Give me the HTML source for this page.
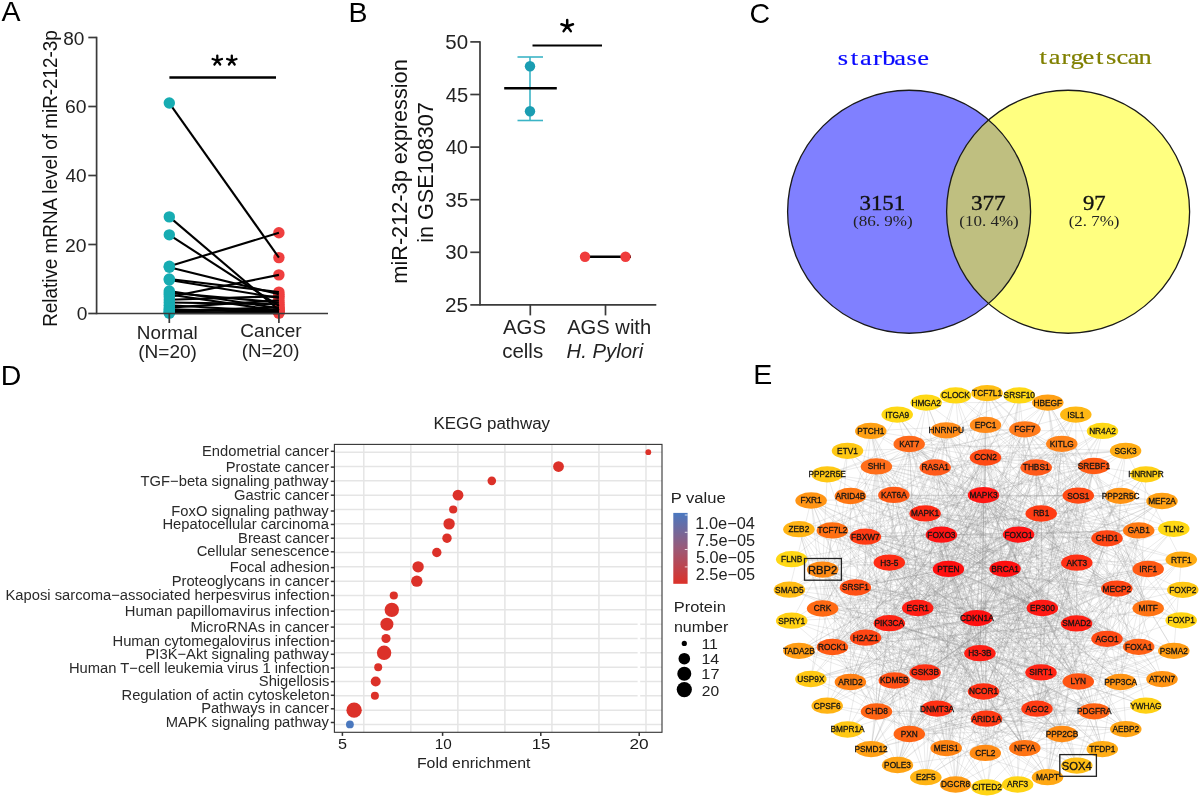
<!DOCTYPE html>
<html><head><meta charset="utf-8"><style>
html,body{margin:0;padding:0;background:#fff;}
svg{display:block;font-family:"Liberation Sans", sans-serif;filter:blur(0.4px);}
</style></head><body>
<svg width="1200" height="796" viewBox="0 0 1200 796">
<rect width="1200" height="796" fill="#fff"/>
<text x="1.50" y="20.66" font-size="28.5" fill="#000" >A</text>
<text x="348.52" y="21.96" font-size="28.5" fill="#000" >B</text>
<text x="749.58" y="22.70" font-size="28.5" fill="#000" >C</text>
<text x="0.72" y="384.67" font-size="28.5" fill="#000" >D</text>
<text x="753.22" y="383.97" font-size="28.5" fill="#000" >E</text>
<g fill="#ef3f3f">
<circle cx="278.9" cy="257.61" r="5.7"/>
<circle cx="278.9" cy="310.05" r="5.7"/>
<circle cx="278.9" cy="305.91" r="5.7"/>
<circle cx="278.9" cy="232.77" r="5.7"/>
<circle cx="278.9" cy="294.18" r="5.7"/>
<circle cx="278.9" cy="292.11" r="5.7"/>
<circle cx="278.9" cy="297.98" r="5.7"/>
<circle cx="278.9" cy="308.32" r="5.7"/>
<circle cx="278.9" cy="302.46" r="5.7"/>
<circle cx="278.9" cy="310.74" r="5.7"/>
<circle cx="278.9" cy="274.86" r="5.7"/>
<circle cx="278.9" cy="296.25" r="5.7"/>
<circle cx="278.9" cy="304.19" r="5.7"/>
<circle cx="278.9" cy="311.43" r="5.7"/>
<circle cx="278.9" cy="300.39" r="5.7"/>
<circle cx="278.9" cy="312.12" r="5.7"/>
<circle cx="278.9" cy="307.29" r="5.7"/>
<circle cx="278.9" cy="309.36" r="5.7"/>
<circle cx="278.9" cy="312.81" r="5.7"/>
<circle cx="278.9" cy="313.15" r="5.7"/>
</g>
<g stroke="#000" stroke-width="2.1">
<line x1="169.3" y1="103.05" x2="278.9" y2="257.61"/>
<line x1="169.3" y1="216.90" x2="278.9" y2="310.05"/>
<line x1="169.3" y1="234.84" x2="278.9" y2="305.91"/>
<line x1="169.3" y1="266.24" x2="278.9" y2="232.77"/>
<line x1="169.3" y1="267.27" x2="278.9" y2="294.18"/>
<line x1="169.3" y1="279.00" x2="278.9" y2="292.11"/>
<line x1="169.3" y1="280.04" x2="278.9" y2="297.98"/>
<line x1="169.3" y1="291.07" x2="278.9" y2="308.32"/>
<line x1="169.3" y1="292.80" x2="278.9" y2="302.46"/>
<line x1="169.3" y1="294.52" x2="278.9" y2="310.74"/>
<line x1="169.3" y1="296.94" x2="278.9" y2="274.86"/>
<line x1="169.3" y1="299.70" x2="278.9" y2="296.25"/>
<line x1="169.3" y1="302.46" x2="278.9" y2="304.19"/>
<line x1="169.3" y1="305.22" x2="278.9" y2="311.43"/>
<line x1="169.3" y1="307.63" x2="278.9" y2="300.39"/>
<line x1="169.3" y1="309.36" x2="278.9" y2="312.12"/>
<line x1="169.3" y1="310.74" x2="278.9" y2="307.29"/>
<line x1="169.3" y1="311.77" x2="278.9" y2="309.36"/>
<line x1="169.3" y1="312.46" x2="278.9" y2="312.81"/>
<line x1="169.3" y1="313.15" x2="278.9" y2="313.15"/>
</g>
<g fill="#17acb2">
<circle cx="169.3" cy="103.05" r="5.7"/>
<circle cx="169.3" cy="216.90" r="5.7"/>
<circle cx="169.3" cy="234.84" r="5.7"/>
<circle cx="169.3" cy="266.24" r="5.7"/>
<circle cx="169.3" cy="267.27" r="5.7"/>
<circle cx="169.3" cy="279.00" r="5.7"/>
<circle cx="169.3" cy="280.04" r="5.7"/>
<circle cx="169.3" cy="291.07" r="5.7"/>
<circle cx="169.3" cy="292.80" r="5.7"/>
<circle cx="169.3" cy="294.52" r="5.7"/>
<circle cx="169.3" cy="296.94" r="5.7"/>
<circle cx="169.3" cy="299.70" r="5.7"/>
<circle cx="169.3" cy="302.46" r="5.7"/>
<circle cx="169.3" cy="305.22" r="5.7"/>
<circle cx="169.3" cy="307.63" r="5.7"/>
<circle cx="169.3" cy="309.36" r="5.7"/>
<circle cx="169.3" cy="310.74" r="5.7"/>
<circle cx="169.3" cy="311.77" r="5.7"/>
<circle cx="169.3" cy="312.46" r="5.7"/>
<circle cx="169.3" cy="313.15" r="5.7"/>
</g>
<g stroke="#3a3a3a" stroke-width="1.7" fill="none">
<line x1="96.6" y1="36.80" x2="96.6" y2="314.2"/>
<line x1="96.6" y1="313.5" x2="328" y2="313.5"/>
<line x1="88.3" y1="313.50" x2="96.6" y2="313.50"/>
<line x1="88.3" y1="244.50" x2="96.6" y2="244.50"/>
<line x1="88.3" y1="175.50" x2="96.6" y2="175.50"/>
<line x1="88.3" y1="106.50" x2="96.6" y2="106.50"/>
<line x1="88.3" y1="37.50" x2="96.6" y2="37.50"/>
<line x1="169.3" y1="313.5" x2="169.3" y2="323.0"/>
<line x1="278.9" y1="313.5" x2="278.9" y2="323.0"/>
</g>
<text x="63.24" y="44.66" font-size="18.8" fill="#222" textLength="21.17" lengthAdjust="spacingAndGlyphs" >80</text>
<text x="65.13" y="113.36" font-size="18.8" fill="#222" textLength="21.49" lengthAdjust="spacingAndGlyphs" >60</text>
<text x="65.52" y="181.96" font-size="18.8" fill="#222" textLength="21.09" lengthAdjust="spacingAndGlyphs" >40</text>
<text x="65.13" y="252.36" font-size="18.8" fill="#222" textLength="21.49" lengthAdjust="spacingAndGlyphs" >20</text>
<text x="76.73" y="319.96" font-size="18.8" fill="#222" textLength="10.66" lengthAdjust="spacingAndGlyphs" >0</text>
<text transform="translate(56.50,325.30) rotate(-90)" x="-1.51" y="0" font-size="19.7" fill="#111" textLength="296.63" lengthAdjust="spacingAndGlyphs">Relative mRNA level of miR-212-3p</text>
<text x="136.79" y="338.50" font-size="19.1" fill="#222" textLength="60.89" lengthAdjust="spacingAndGlyphs" >Normal</text>
<text x="138.16" y="358.40" font-size="19.1" fill="#222" textLength="58.77" lengthAdjust="spacingAndGlyphs" >(N=20)</text>
<text x="240.35" y="337.00" font-size="19.1" fill="#222" textLength="61.31" lengthAdjust="spacingAndGlyphs" >Cancer</text>
<text x="241.68" y="356.60" font-size="19.1" fill="#222" textLength="57.73" lengthAdjust="spacingAndGlyphs" >(N=20)</text>
<line x1="169.4" y1="77.5" x2="276" y2="77.5" stroke="#000" stroke-width="2.5"/>
<path d="M217.30,60.50L217.30,55.60M217.30,60.50L212.64,58.99M217.30,60.50L214.42,64.46M217.30,60.50L220.18,64.46M217.30,60.50L221.96,58.99" stroke="#000" stroke-width="2.3" stroke-linecap="round" fill="none"/>
<path d="M231.80,60.50L231.80,55.60M231.80,60.50L227.14,58.99M231.80,60.50L228.92,64.46M231.80,60.50L234.68,64.46M231.80,60.50L236.46,58.99" stroke="#000" stroke-width="2.3" stroke-linecap="round" fill="none"/>
<g stroke="#3a3a3a" stroke-width="1.7" fill="none">
<line x1="480" y1="41.20" x2="480" y2="305.60"/>
<line x1="480" y1="304.90" x2="656.3" y2="304.90"/>
<line x1="470.3" y1="304.90" x2="480" y2="304.90"/>
<line x1="470.3" y1="252.30" x2="480" y2="252.30"/>
<line x1="470.3" y1="199.70" x2="480" y2="199.70"/>
<line x1="470.3" y1="147.10" x2="480" y2="147.10"/>
<line x1="470.3" y1="94.50" x2="480" y2="94.50"/>
<line x1="470.3" y1="41.90" x2="480" y2="41.90"/>
<line x1="530.3" y1="304.90" x2="530.3" y2="315.40"/>
<line x1="605.5" y1="304.90" x2="605.5" y2="315.40"/>
</g>
<text x="445.06" y="311.90" font-size="20.2" fill="#222" textLength="23.12" lengthAdjust="spacingAndGlyphs" >25</text>
<text x="445.28" y="259.30" font-size="20.2" fill="#222" textLength="22.78" lengthAdjust="spacingAndGlyphs" >30</text>
<text x="445.28" y="206.70" font-size="20.2" fill="#222" textLength="22.89" lengthAdjust="spacingAndGlyphs" >35</text>
<text x="445.70" y="154.10" font-size="20.2" fill="#222" textLength="22.35" lengthAdjust="spacingAndGlyphs" >40</text>
<text x="445.70" y="101.50" font-size="20.2" fill="#222" textLength="22.46" lengthAdjust="spacingAndGlyphs" >45</text>
<text x="445.28" y="48.90" font-size="20.2" fill="#222" textLength="22.78" lengthAdjust="spacingAndGlyphs" >50</text>
<text transform="translate(406.60,282.30) rotate(-90)" x="-1.41" y="0" font-size="21.8" fill="#111" textLength="224.49" lengthAdjust="spacingAndGlyphs">miR-212-3p expression</text>
<text transform="translate(433.00,241.40) rotate(-90)" x="-1.40" y="0" font-size="21.8" fill="#111" textLength="140.59" lengthAdjust="spacingAndGlyphs">in GSE108307</text>
<text x="503.00" y="334.10" font-size="19.8" fill="#222" textLength="42.95" lengthAdjust="spacingAndGlyphs" >AGS</text>
<text x="502.18" y="358.40" font-size="19.8" fill="#222" textLength="40.95" lengthAdjust="spacingAndGlyphs" >cells</text>
<text x="567.20" y="334.10" font-size="19.8" fill="#222" textLength="83.97" lengthAdjust="spacingAndGlyphs" >AGS with</text>
<text x="566.59" y="358.20" font-size="19.8" font-style="italic" fill="#222" textLength="76.67" lengthAdjust="spacingAndGlyphs" >H. Pylori</text>
<line x1="532.5" y1="45.5" x2="602" y2="45.5" stroke="#000" stroke-width="2"/>
<path d="M567.20,26.20L567.20,20.10M567.20,26.20L561.40,24.31M567.20,26.20L563.61,31.14M567.20,26.20L570.79,31.14M567.20,26.20L573.00,24.31" stroke="#000" stroke-width="2.5" stroke-linecap="round" fill="none"/>
<g stroke="#3bb4c6" stroke-width="1.6"><line x1="530" y1="57" x2="530" y2="120.5"/><line x1="517.5" y1="57" x2="543" y2="57"/><line x1="517.5" y1="120.5" x2="543" y2="120.5"/></g>
<line x1="504.2" y1="88.2" x2="556.8" y2="88.2" stroke="#000" stroke-width="2.4"/>
<circle cx="530" cy="66.2" r="5.2" fill="#1a9db2"/><circle cx="530" cy="111.2" r="5.2" fill="#1a9db2"/>
<line x1="580" y1="256.8" x2="631" y2="256.8" stroke="#000" stroke-width="2.4"/>
<circle cx="585" cy="256.8" r="5.2" fill="#f03c3c"/><circle cx="625.5" cy="256.8" r="5.2" fill="#f03c3c"/>
<circle cx="909.1" cy="211.75" r="121.5" fill="#8080ff"/>
<circle cx="1068.1" cy="211.75" r="121.5" fill="#ffff80"/>
<clipPath id="cl"><circle cx="909.1" cy="211.75" r="121.5"/></clipPath>
<circle cx="1068.1" cy="211.75" r="121.5" fill="#bfbf80" clip-path="url(#cl)"/>
<circle cx="909.1" cy="211.75" r="121.5" fill="none" stroke="#1a1a1a" stroke-width="1.3"/>
<circle cx="1068.1" cy="211.75" r="121.5" fill="none" stroke="#1a1a1a" stroke-width="1.3"/>
<g transform="scale(1.2,1)"><text x="702.42 711.97 721.52 731.07 740.62 750.17 759.72 769.27" y="64.6" font-family='"Liberation Serif", serif' font-size="22" text-anchor="middle" fill="#0a0aff" stroke="#0a0aff" stroke-width="0.2">starbase</text></g>
<g transform="scale(1.2,1)"><text x="869.33 878.76 888.18 897.61 907.03 916.46 925.88 935.31 944.73 954.16" y="64.4" font-family='"Liberation Serif", serif' font-size="22" text-anchor="middle" fill="#808000" stroke="#808000" stroke-width="0.2">targetscan</text></g>
<text x="859.47" y="210.00" font-size="20" font-family='"Liberation Serif", serif' fill="#111" textLength="45.65" lengthAdjust="spacingAndGlyphs" stroke="#111" stroke-width="0.35">3151</text>
<text x="852.98" y="225.50" font-size="15.5" font-family='"Liberation Serif", serif' fill="#222" textLength="59.77" lengthAdjust="spacingAndGlyphs" >(86. 9%)</text>
<text x="970.96" y="210.00" font-size="20" font-family='"Liberation Serif", serif' fill="#111" textLength="34.74" lengthAdjust="spacingAndGlyphs" stroke="#111" stroke-width="0.35">377</text>
<text x="959.23" y="225.50" font-size="15.5" font-family='"Liberation Serif", serif' fill="#222" textLength="59.52" lengthAdjust="spacingAndGlyphs" >(10. 4%)</text>
<text x="1083.07" y="210.00" font-size="20" font-family='"Liberation Serif", serif' fill="#111" textLength="22.61" lengthAdjust="spacingAndGlyphs" stroke="#111" stroke-width="0.35">97</text>
<text x="1068.74" y="225.50" font-size="15.5" font-family='"Liberation Serif", serif' fill="#222" textLength="50.76" lengthAdjust="spacingAndGlyphs" >(2. 7%)</text>
<g stroke="#e5e5e5" stroke-width="1.5">
<line x1="334.4" y1="452.20" x2="662.0" y2="452.20"/>
<line x1="334.4" y1="466.53" x2="662.0" y2="466.53"/>
<line x1="334.4" y1="480.86" x2="662.0" y2="480.86"/>
<line x1="334.4" y1="495.19" x2="662.0" y2="495.19"/>
<line x1="334.4" y1="509.52" x2="662.0" y2="509.52"/>
<line x1="334.4" y1="523.85" x2="662.0" y2="523.85"/>
<line x1="334.4" y1="538.18" x2="662.0" y2="538.18"/>
<line x1="334.4" y1="552.51" x2="662.0" y2="552.51"/>
<line x1="334.4" y1="566.84" x2="662.0" y2="566.84"/>
<line x1="334.4" y1="581.17" x2="662.0" y2="581.17"/>
<line x1="334.4" y1="595.50" x2="662.0" y2="595.50"/>
<line x1="334.4" y1="609.83" x2="662.0" y2="609.83"/>
<line x1="334.4" y1="624.16" x2="662.0" y2="624.16"/>
<line x1="334.4" y1="638.49" x2="662.0" y2="638.49"/>
<line x1="334.4" y1="652.82" x2="662.0" y2="652.82"/>
<line x1="334.4" y1="667.15" x2="662.0" y2="667.15"/>
<line x1="334.4" y1="681.48" x2="662.0" y2="681.48"/>
<line x1="334.4" y1="695.81" x2="662.0" y2="695.81"/>
<line x1="334.4" y1="710.14" x2="662.0" y2="710.14"/>
<line x1="334.4" y1="724.47" x2="662.0" y2="724.47"/>
<line x1="363.80" y1="444.4" x2="363.80" y2="732.3"/>
<line x1="410.83" y1="444.4" x2="410.83" y2="732.3"/>
<line x1="457.86" y1="444.4" x2="457.86" y2="732.3"/>
<line x1="504.89" y1="444.4" x2="504.89" y2="732.3"/>
<line x1="551.92" y1="444.4" x2="551.92" y2="732.3"/>
<line x1="598.95" y1="444.4" x2="598.95" y2="732.3"/>
<line x1="645.98" y1="444.4" x2="645.98" y2="732.3"/>
</g>
<rect x="637.6" y="619" width="2.6" height="80" fill="#fff"/>
<circle cx="648.3" cy="452.20" r="2.9" fill="#dc3129"/>
<circle cx="558.5" cy="466.53" r="5.4" fill="#dc3129"/>
<circle cx="491.8" cy="480.86" r="4.3" fill="#dc3129"/>
<circle cx="458.0" cy="495.19" r="5.4" fill="#dc3129"/>
<circle cx="453.2" cy="509.52" r="4.1" fill="#dc3129"/>
<circle cx="449.1" cy="523.85" r="5.7" fill="#dc3129"/>
<circle cx="447.0" cy="538.18" r="4.7" fill="#dc3129"/>
<circle cx="436.8" cy="552.51" r="4.7" fill="#dc3129"/>
<circle cx="418.1" cy="566.84" r="5.7" fill="#dc3129"/>
<circle cx="416.8" cy="581.17" r="5.7" fill="#dc3129"/>
<circle cx="393.8" cy="595.50" r="4.1" fill="#dc3129"/>
<circle cx="391.8" cy="609.83" r="7.2" fill="#dc3129"/>
<circle cx="386.9" cy="624.16" r="6.5" fill="#dc3129"/>
<circle cx="386.0" cy="638.49" r="4.6" fill="#dc3129"/>
<circle cx="384.1" cy="652.82" r="7.2" fill="#dc3129"/>
<circle cx="378.2" cy="667.15" r="4.0" fill="#dc3129"/>
<circle cx="375.7" cy="681.48" r="5.0" fill="#dc3129"/>
<circle cx="374.9" cy="695.81" r="4.0" fill="#dc3129"/>
<circle cx="354.1" cy="710.14" r="7.7" fill="#dc3129"/>
<circle cx="349.9" cy="724.47" r="3.9" fill="#4a78be"/>
<rect x="334.4" y="444.4" width="327.6" height="287.9" fill="none" stroke="#333" stroke-width="1.1"/>
<g stroke="#333" stroke-width="1.1">
<line x1="330.79999999999995" y1="451.30" x2="334.4" y2="451.30" stroke-width="1.5"/>
<line x1="330.79999999999995" y1="467.10" x2="334.4" y2="467.10" stroke-width="1.5"/>
<line x1="330.79999999999995" y1="481.30" x2="334.4" y2="481.30" stroke-width="1.5"/>
<line x1="330.79999999999995" y1="495.20" x2="334.4" y2="495.20" stroke-width="1.5"/>
<line x1="330.79999999999995" y1="511.00" x2="334.4" y2="511.00" stroke-width="1.5"/>
<line x1="330.79999999999995" y1="524.45" x2="334.4" y2="524.45" stroke-width="1.5"/>
<line x1="330.79999999999995" y1="538.20" x2="334.4" y2="538.20" stroke-width="1.5"/>
<line x1="330.79999999999995" y1="551.80" x2="334.4" y2="551.80" stroke-width="1.5"/>
<line x1="330.79999999999995" y1="567.60" x2="334.4" y2="567.60" stroke-width="1.5"/>
<line x1="330.79999999999995" y1="581.40" x2="334.4" y2="581.40" stroke-width="1.5"/>
<line x1="330.79999999999995" y1="595.50" x2="334.4" y2="595.50" stroke-width="1.5"/>
<line x1="330.79999999999995" y1="611.20" x2="334.4" y2="611.20" stroke-width="1.5"/>
<line x1="330.79999999999995" y1="627.10" x2="334.4" y2="627.10" stroke-width="1.5"/>
<line x1="330.79999999999995" y1="641.10" x2="334.4" y2="641.10" stroke-width="1.5"/>
<line x1="330.79999999999995" y1="654.30" x2="334.4" y2="654.30" stroke-width="1.5"/>
<line x1="330.79999999999995" y1="668.10" x2="334.4" y2="668.10" stroke-width="1.5"/>
<line x1="330.79999999999995" y1="681.70" x2="334.4" y2="681.70" stroke-width="1.5"/>
<line x1="330.79999999999995" y1="695.30" x2="334.4" y2="695.30" stroke-width="1.5"/>
<line x1="330.79999999999995" y1="708.80" x2="334.4" y2="708.80" stroke-width="1.5"/>
<line x1="330.79999999999995" y1="722.50" x2="334.4" y2="722.50" stroke-width="1.5"/>
<line x1="342.40" y1="732.3" x2="342.40" y2="735.9" stroke-width="1.5"/>
<line x1="442.60" y1="732.3" x2="442.60" y2="735.9" stroke-width="1.5"/>
<line x1="540.80" y1="732.3" x2="540.80" y2="735.9" stroke-width="1.5"/>
<line x1="639.20" y1="732.3" x2="639.20" y2="735.9" stroke-width="1.5"/>
</g>
<text x="201.95" y="455.80" font-size="14.75" fill="#2a2a2a" >Endometrial cancer</text>
<text x="225.77" y="471.60" font-size="14.75" fill="#2a2a2a" >Prostate cancer</text>
<text x="140.59" y="485.80" font-size="14.75" fill="#2a2a2a" >TGF−beta signaling pathway</text>
<text x="233.96" y="499.70" font-size="14.75" fill="#2a2a2a" >Gastric cancer</text>
<text x="171.34" y="515.50" font-size="14.75" fill="#2a2a2a" >FoxO signaling pathway</text>
<text x="162.42" y="528.95" font-size="14.75" fill="#2a2a2a" >Hepatocellular carcinoma</text>
<text x="238.09" y="542.70" font-size="14.75" fill="#2a2a2a" >Breast cancer</text>
<text x="196.64" y="556.30" font-size="14.75" fill="#2a2a2a" >Cellular senescence</text>
<text x="229.75" y="572.10" font-size="14.75" fill="#2a2a2a" >Focal adhesion</text>
<text x="171.64" y="585.90" font-size="14.75" fill="#2a2a2a" >Proteoglycans in cancer</text>
<text x="5.48" y="600.00" font-size="14.75" fill="#2a2a2a" >Kaposi sarcoma−associated herpesvirus infection</text>
<text x="124.81" y="615.70" font-size="14.75" fill="#2a2a2a" >Human papillomavirus infection</text>
<text x="190.52" y="631.60" font-size="14.75" fill="#2a2a2a" >MicroRNAs in cancer</text>
<text x="112.49" y="645.60" font-size="14.75" fill="#2a2a2a" >Human cytomegalovirus infection</text>
<text x="145.53" y="658.80" font-size="14.75" fill="#2a2a2a" >PI3K−Akt signaling pathway</text>
<text x="68.91" y="672.60" font-size="14.75" fill="#2a2a2a" >Human T−cell leukemia virus 1 infection</text>
<text x="258.81" y="686.20" font-size="14.75" fill="#2a2a2a" >Shigellosis</text>
<text x="121.49" y="699.80" font-size="14.75" fill="#2a2a2a" >Regulation of actin cytoskeleton</text>
<text x="201.14" y="713.30" font-size="14.75" fill="#2a2a2a" >Pathways in cancer</text>
<text x="165.67" y="727.00" font-size="14.75" fill="#2a2a2a" >MAPK signaling pathway</text>
<text x="337.95" y="748.90" font-size="15.3" fill="#1a1a1a" textLength="9.02" lengthAdjust="spacingAndGlyphs" >5</text>
<text x="434.85" y="748.90" font-size="15.3" fill="#1a1a1a" textLength="17.02" lengthAdjust="spacingAndGlyphs" >10</text>
<text x="531.74" y="748.90" font-size="15.3" fill="#1a1a1a" textLength="18.67" lengthAdjust="spacingAndGlyphs" >15</text>
<text x="629.44" y="748.90" font-size="15.3" fill="#1a1a1a" textLength="19.21" lengthAdjust="spacingAndGlyphs" >20</text>
<text x="416.93" y="768.40" font-size="15.2" fill="#222" textLength="113.53" lengthAdjust="spacingAndGlyphs" >Fold enrichment</text>
<text x="433.45" y="429.40" font-size="15.8" fill="#222" textLength="116.59" lengthAdjust="spacingAndGlyphs" >KEGG pathway</text>
<text x="670.67" y="502.60" font-size="15.5" fill="#222" textLength="55.01" lengthAdjust="spacingAndGlyphs" >P value</text>
<defs><linearGradient id="pg" x1="0" y1="0" x2="0" y2="1"><stop offset="0" stop-color="#4a78c0"/><stop offset="0.5" stop-color="#9a5a78"/><stop offset="1" stop-color="#dc3129"/></linearGradient></defs>
<rect x="673.3" y="512.9" width="14.3" height="70.9" fill="url(#pg)"/>
<g stroke="#fff" stroke-width="0.8">
<line x1="684.8" y1="515" x2="687.6" y2="515"/>
<line x1="684.8" y1="532.3" x2="687.6" y2="532.3"/>
<line x1="684.8" y1="549.5" x2="687.6" y2="549.5"/>
<line x1="684.8" y1="566.9" x2="687.6" y2="566.9"/>
</g>
<text x="695.37" y="529.10" font-size="16" fill="#222" textLength="59.56" lengthAdjust="spacingAndGlyphs" >1.0e−04</text>
<text x="695.79" y="546.00" font-size="16" fill="#222" textLength="59.31" lengthAdjust="spacingAndGlyphs" >7.5e−05</text>
<text x="695.95" y="563.30" font-size="16" fill="#222" textLength="59.14" lengthAdjust="spacingAndGlyphs" >5.0e−05</text>
<text x="695.79" y="580.20" font-size="16" fill="#222" textLength="59.31" lengthAdjust="spacingAndGlyphs" >2.5e−05</text>
<text x="673.68" y="612.40" font-size="15.5" fill="#222" textLength="52.15" lengthAdjust="spacingAndGlyphs" >Protein</text>
<text x="673.96" y="631.90" font-size="15.5" fill="#222" textLength="54.29" lengthAdjust="spacingAndGlyphs" >number</text>
<circle cx="684.3" cy="643.4" r="2.6" fill="#000"/>
<text x="701.40" y="649.00" font-size="15.3" fill="#222" textLength="16.56" lengthAdjust="spacingAndGlyphs" >11</text>
<circle cx="684.3" cy="658.7" r="5.8" fill="#000"/>
<text x="701.41" y="664.00" font-size="15.3" fill="#222" textLength="17.71" lengthAdjust="spacingAndGlyphs" >14</text>
<circle cx="684.3" cy="673.8" r="7.0" fill="#000"/>
<text x="701.38" y="679.40" font-size="15.3" fill="#222" textLength="18.07" lengthAdjust="spacingAndGlyphs" >17</text>
<circle cx="684.3" cy="689.6" r="7.6" fill="#000"/>
<text x="701.82" y="695.80" font-size="15.3" fill="#222" textLength="17.36" lengthAdjust="spacingAndGlyphs" >20</text>
<g stroke="#888" stroke-width="0.4" stroke-opacity="0.42">
<line x1="926.2" y1="402.6" x2="1047.8" y2="402.6"/>
<line x1="926.2" y1="402.6" x2="893.9" y2="494.9"/>
<line x1="926.2" y1="402.6" x2="1107" y2="538.3"/>
<line x1="926.2" y1="402.6" x2="948.4" y2="568.9"/>
<line x1="926.2" y1="402.6" x2="1041" y2="672.4"/>
<line x1="926.2" y1="402.6" x2="876.5" y2="711.5"/>
<line x1="926.2" y1="402.6" x2="1076.8" y2="765.6"/>
<line x1="955.6" y1="395.4" x2="946.2" y2="430.3"/>
<line x1="955.6" y1="395.4" x2="1036.2" y2="467.5"/>
<line x1="955.6" y1="395.4" x2="1138.7" y2="530.4"/>
<line x1="955.6" y1="395.4" x2="850.4" y2="682"/>
<line x1="955.6" y1="395.4" x2="1037" y2="708.7"/>
<line x1="955.6" y1="395.4" x2="985.3" y2="752.9"/>
<line x1="955.6" y1="395.4" x2="1102.3" y2="749.1"/>
<line x1="987.1" y1="393.1" x2="1024.9" y2="429.3"/>
<line x1="987.1" y1="393.1" x2="1036.2" y2="467.5"/>
<line x1="987.1" y1="393.1" x2="865.4" y2="536.7"/>
<line x1="987.1" y1="393.1" x2="941.4" y2="534.7"/>
<line x1="987.1" y1="393.1" x2="1018.6" y2="534.6"/>
<line x1="987.1" y1="393.1" x2="1138.7" y2="530.4"/>
<line x1="987.1" y1="393.1" x2="976.9" y2="618.1"/>
<line x1="987.1" y1="393.1" x2="889.3" y2="623.2"/>
<line x1="987.1" y1="393.1" x2="979.9" y2="653.2"/>
<line x1="987.1" y1="393.1" x2="1138.7" y2="646.8"/>
<line x1="1019.3" y1="395.4" x2="876.4" y2="466.4"/>
<line x1="1019.3" y1="395.4" x2="941.4" y2="534.7"/>
<line x1="1019.3" y1="395.4" x2="1042.4" y2="608"/>
<line x1="1019.3" y1="395.4" x2="889.3" y2="623.2"/>
<line x1="1019.3" y1="395.4" x2="983.5" y2="691.5"/>
<line x1="1019.3" y1="395.4" x2="946.2" y2="748.1"/>
<line x1="1019.3" y1="395.4" x2="955.6" y2="784.5"/>
<line x1="1019.3" y1="395.4" x2="1017.6" y2="784.5"/>
<line x1="1047.8" y1="402.6" x2="985.5" y2="457.5"/>
<line x1="1047.8" y1="402.6" x2="827.2" y2="474.3"/>
<line x1="1047.8" y1="402.6" x2="865.4" y2="536.7"/>
<line x1="1047.8" y1="402.6" x2="1076.8" y2="562.7"/>
<line x1="1047.8" y1="402.6" x2="1148.2" y2="569"/>
<line x1="1047.8" y1="402.6" x2="917.7" y2="608"/>
<line x1="1047.8" y1="402.6" x2="1148.2" y2="608.3"/>
<line x1="1047.8" y1="402.6" x2="1181.2" y2="620.3"/>
<line x1="1047.8" y1="402.6" x2="1078.3" y2="681.5"/>
<line x1="1047.8" y1="402.6" x2="1094.2" y2="711.3"/>
<line x1="1047.8" y1="402.6" x2="909.3" y2="734"/>
<line x1="1047.8" y1="402.6" x2="897.5" y2="765"/>
<line x1="897.2" y1="414.6" x2="935.2" y2="467.5"/>
<line x1="897.2" y1="414.6" x2="850.4" y2="496"/>
<line x1="897.2" y1="414.6" x2="925.1" y2="513.4"/>
<line x1="897.2" y1="414.6" x2="1076.8" y2="562.7"/>
<line x1="897.2" y1="414.6" x2="1078.3" y2="681.5"/>
<line x1="897.2" y1="414.6" x2="1094.2" y2="711.3"/>
<line x1="1075.8" y1="414.6" x2="876.4" y2="466.4"/>
<line x1="1075.8" y1="414.6" x2="983.5" y2="495.1"/>
<line x1="1075.8" y1="414.6" x2="822.6" y2="569.6"/>
<line x1="1075.8" y1="414.6" x2="948.4" y2="568.9"/>
<line x1="1075.8" y1="414.6" x2="1148.2" y2="608.3"/>
<line x1="1075.8" y1="414.6" x2="1076.6" y2="623.4"/>
<line x1="1075.8" y1="414.6" x2="865.6" y2="637.7"/>
<line x1="1075.8" y1="414.6" x2="937" y2="708.6"/>
<line x1="1075.8" y1="414.6" x2="955.6" y2="784.5"/>
<line x1="870.8" y1="430.9" x2="985.5" y2="424.9"/>
<line x1="870.8" y1="430.9" x2="876.4" y2="466.4"/>
<line x1="870.8" y1="430.9" x2="1145.9" y2="474.3"/>
<line x1="870.8" y1="430.9" x2="1041.2" y2="513.5"/>
<line x1="870.8" y1="430.9" x2="855.4" y2="587.5"/>
<line x1="870.8" y1="430.9" x2="1116.8" y2="588.6"/>
<line x1="870.8" y1="430.9" x2="976.9" y2="618.1"/>
<line x1="870.8" y1="430.9" x2="979.9" y2="653.2"/>
<line x1="870.8" y1="430.9" x2="810.9" y2="679"/>
<line x1="870.8" y1="430.9" x2="925.1" y2="672.4"/>
<line x1="870.8" y1="430.9" x2="937" y2="708.6"/>
<line x1="870.8" y1="430.9" x2="985.3" y2="752.9"/>
<line x1="946.2" y1="430.3" x2="1024.9" y2="429.3"/>
<line x1="946.2" y1="430.3" x2="1102.5" y2="430.9"/>
<line x1="946.2" y1="430.3" x2="985.5" y2="457.5"/>
<line x1="946.2" y1="430.3" x2="983.5" y2="495.1"/>
<line x1="946.2" y1="430.3" x2="1018.6" y2="534.6"/>
<line x1="946.2" y1="430.3" x2="791.7" y2="559.2"/>
<line x1="946.2" y1="430.3" x2="948.4" y2="568.9"/>
<line x1="946.2" y1="430.3" x2="1005.1" y2="568.8"/>
<line x1="946.2" y1="430.3" x2="1076.8" y2="562.7"/>
<line x1="946.2" y1="430.3" x2="917.7" y2="608"/>
<line x1="946.2" y1="430.3" x2="1042.4" y2="608"/>
<line x1="946.2" y1="430.3" x2="889.3" y2="623.2"/>
<line x1="946.2" y1="430.3" x2="865.6" y2="637.7"/>
<line x1="946.2" y1="430.3" x2="832.4" y2="647"/>
<line x1="946.2" y1="430.3" x2="979.9" y2="653.2"/>
<line x1="946.2" y1="430.3" x2="909.3" y2="734"/>
<line x1="985.5" y1="424.9" x2="909.2" y2="444"/>
<line x1="985.5" y1="424.9" x2="876.4" y2="466.4"/>
<line x1="985.5" y1="424.9" x2="1041.2" y2="513.5"/>
<line x1="985.5" y1="424.9" x2="941.4" y2="534.7"/>
<line x1="985.5" y1="424.9" x2="1018.6" y2="534.6"/>
<line x1="985.5" y1="424.9" x2="1107" y2="538.3"/>
<line x1="985.5" y1="424.9" x2="948.4" y2="568.9"/>
<line x1="985.5" y1="424.9" x2="889.3" y2="623.2"/>
<line x1="985.5" y1="424.9" x2="832.4" y2="647"/>
<line x1="985.5" y1="424.9" x2="979.9" y2="653.2"/>
<line x1="985.5" y1="424.9" x2="1041" y2="672.4"/>
<line x1="985.5" y1="424.9" x2="985.3" y2="752.9"/>
<line x1="985.5" y1="424.9" x2="1024.8" y2="748.1"/>
<line x1="985.5" y1="424.9" x2="925.8" y2="777.2"/>
<line x1="985.5" y1="424.9" x2="955.6" y2="784.5"/>
<line x1="1024.9" y1="429.3" x2="935.2" y2="467.5"/>
<line x1="1024.9" y1="429.3" x2="827.2" y2="474.3"/>
<line x1="1024.9" y1="429.3" x2="1120.6" y2="495.8"/>
<line x1="1024.9" y1="429.3" x2="1162" y2="501"/>
<line x1="1024.9" y1="429.3" x2="941.4" y2="534.7"/>
<line x1="1024.9" y1="429.3" x2="1018.6" y2="534.6"/>
<line x1="1024.9" y1="429.3" x2="1173.8" y2="528.8"/>
<line x1="1024.9" y1="429.3" x2="1148.2" y2="569"/>
<line x1="1024.9" y1="429.3" x2="789.4" y2="589.7"/>
<line x1="1024.9" y1="429.3" x2="1116.8" y2="588.6"/>
<line x1="1024.9" y1="429.3" x2="822.6" y2="608.5"/>
<line x1="1024.9" y1="429.3" x2="1076.6" y2="623.4"/>
<line x1="1024.9" y1="429.3" x2="1181.2" y2="620.3"/>
<line x1="1024.9" y1="429.3" x2="894.3" y2="680.5"/>
<line x1="1024.9" y1="429.3" x2="925.1" y2="672.4"/>
<line x1="1024.9" y1="429.3" x2="1078.3" y2="681.5"/>
<line x1="1024.9" y1="429.3" x2="871.1" y2="749.1"/>
<line x1="1024.9" y1="429.3" x2="985.3" y2="752.9"/>
<line x1="1024.9" y1="429.3" x2="1102.3" y2="749.1"/>
<line x1="1102.5" y1="430.9" x2="1036.2" y2="467.5"/>
<line x1="1102.5" y1="430.9" x2="1041.2" y2="513.5"/>
<line x1="1102.5" y1="430.9" x2="941.4" y2="534.7"/>
<line x1="1102.5" y1="430.9" x2="976.9" y2="618.1"/>
<line x1="1102.5" y1="430.9" x2="832.4" y2="647"/>
<line x1="1102.5" y1="430.9" x2="983.5" y2="691.5"/>
<line x1="1102.5" y1="430.9" x2="1037" y2="708.7"/>
<line x1="909.2" y1="444" x2="985.5" y2="457.5"/>
<line x1="909.2" y1="444" x2="1125.6" y2="450.8"/>
<line x1="909.2" y1="444" x2="827.2" y2="474.3"/>
<line x1="909.2" y1="444" x2="850.4" y2="496"/>
<line x1="909.2" y1="444" x2="1078.3" y2="495.6"/>
<line x1="909.2" y1="444" x2="865.4" y2="536.7"/>
<line x1="909.2" y1="444" x2="1018.6" y2="534.6"/>
<line x1="909.2" y1="444" x2="889.3" y2="562.6"/>
<line x1="909.2" y1="444" x2="1005.1" y2="568.8"/>
<line x1="909.2" y1="444" x2="1076.8" y2="562.7"/>
<line x1="909.2" y1="444" x2="1148.2" y2="569"/>
<line x1="909.2" y1="444" x2="917.7" y2="608"/>
<line x1="909.2" y1="444" x2="1148.2" y2="608.3"/>
<line x1="909.2" y1="444" x2="1181.2" y2="620.3"/>
<line x1="909.2" y1="444" x2="1107" y2="638.8"/>
<line x1="909.2" y1="444" x2="832.4" y2="647"/>
<line x1="909.2" y1="444" x2="979.9" y2="653.2"/>
<line x1="909.2" y1="444" x2="1041" y2="672.4"/>
<line x1="909.2" y1="444" x2="983.5" y2="691.5"/>
<line x1="909.2" y1="444" x2="1094.2" y2="711.3"/>
<line x1="909.2" y1="444" x2="1024.8" y2="748.1"/>
<line x1="909.2" y1="444" x2="897.5" y2="765"/>
<line x1="909.2" y1="444" x2="925.8" y2="777.2"/>
<line x1="1061.8" y1="443.8" x2="847.5" y2="450.8"/>
<line x1="1061.8" y1="443.8" x2="985.5" y2="457.5"/>
<line x1="1061.8" y1="443.8" x2="983.5" y2="495.1"/>
<line x1="1061.8" y1="443.8" x2="1078.3" y2="495.6"/>
<line x1="1061.8" y1="443.8" x2="925.1" y2="513.4"/>
<line x1="1061.8" y1="443.8" x2="1041.2" y2="513.5"/>
<line x1="1061.8" y1="443.8" x2="889.3" y2="562.6"/>
<line x1="1061.8" y1="443.8" x2="917.7" y2="608"/>
<line x1="1061.8" y1="443.8" x2="976.9" y2="618.1"/>
<line x1="1061.8" y1="443.8" x2="1148.2" y2="608.3"/>
<line x1="1061.8" y1="443.8" x2="1076.6" y2="623.4"/>
<line x1="1061.8" y1="443.8" x2="832.4" y2="647"/>
<line x1="1061.8" y1="443.8" x2="1041" y2="672.4"/>
<line x1="1061.8" y1="443.8" x2="1120.6" y2="682"/>
<line x1="1061.8" y1="443.8" x2="876.5" y2="711.5"/>
<line x1="1061.8" y1="443.8" x2="1037" y2="708.7"/>
<line x1="847.5" y1="450.8" x2="983.5" y2="495.1"/>
<line x1="847.5" y1="450.8" x2="925.1" y2="513.4"/>
<line x1="847.5" y1="450.8" x2="822.6" y2="569.6"/>
<line x1="847.5" y1="450.8" x2="832.4" y2="647"/>
<line x1="847.5" y1="450.8" x2="1120.6" y2="682"/>
<line x1="847.5" y1="450.8" x2="983.5" y2="691.5"/>
<line x1="985.5" y1="457.5" x2="1125.6" y2="450.8"/>
<line x1="985.5" y1="457.5" x2="1036.2" y2="467.5"/>
<line x1="985.5" y1="457.5" x2="1093.9" y2="466"/>
<line x1="985.5" y1="457.5" x2="850.4" y2="496"/>
<line x1="985.5" y1="457.5" x2="1041.2" y2="513.5"/>
<line x1="985.5" y1="457.5" x2="798.9" y2="529.2"/>
<line x1="985.5" y1="457.5" x2="1018.6" y2="534.6"/>
<line x1="985.5" y1="457.5" x2="889.3" y2="562.6"/>
<line x1="985.5" y1="457.5" x2="948.4" y2="568.9"/>
<line x1="985.5" y1="457.5" x2="1005.1" y2="568.8"/>
<line x1="985.5" y1="457.5" x2="1076.8" y2="562.7"/>
<line x1="985.5" y1="457.5" x2="1116.8" y2="588.6"/>
<line x1="985.5" y1="457.5" x2="917.7" y2="608"/>
<line x1="985.5" y1="457.5" x2="976.9" y2="618.1"/>
<line x1="985.5" y1="457.5" x2="1148.2" y2="608.3"/>
<line x1="985.5" y1="457.5" x2="889.3" y2="623.2"/>
<line x1="985.5" y1="457.5" x2="865.6" y2="637.7"/>
<line x1="985.5" y1="457.5" x2="832.4" y2="647"/>
<line x1="985.5" y1="457.5" x2="979.9" y2="653.2"/>
<line x1="985.5" y1="457.5" x2="810.9" y2="679"/>
<line x1="985.5" y1="457.5" x2="850.4" y2="682"/>
<line x1="985.5" y1="457.5" x2="1041" y2="672.4"/>
<line x1="985.5" y1="457.5" x2="1120.6" y2="682"/>
<line x1="985.5" y1="457.5" x2="876.5" y2="711.5"/>
<line x1="985.5" y1="457.5" x2="937" y2="708.6"/>
<line x1="985.5" y1="457.5" x2="1037" y2="708.7"/>
<line x1="985.5" y1="457.5" x2="986.5" y2="718.7"/>
<line x1="985.5" y1="457.5" x2="1125.8" y2="729.1"/>
<line x1="985.5" y1="457.5" x2="897.5" y2="765"/>
<line x1="985.5" y1="457.5" x2="1076.8" y2="765.6"/>
<line x1="1125.6" y1="450.8" x2="876.4" y2="466.4"/>
<line x1="1125.6" y1="450.8" x2="935.2" y2="467.5"/>
<line x1="1125.6" y1="450.8" x2="925.1" y2="513.4"/>
<line x1="1125.6" y1="450.8" x2="1076.8" y2="562.7"/>
<line x1="1125.6" y1="450.8" x2="1181.3" y2="559.6"/>
<line x1="1125.6" y1="450.8" x2="822.6" y2="608.5"/>
<line x1="1125.6" y1="450.8" x2="917.7" y2="608"/>
<line x1="1125.6" y1="450.8" x2="1107" y2="638.8"/>
<line x1="1125.6" y1="450.8" x2="1047.5" y2="777.2"/>
<line x1="876.4" y1="466.4" x2="1036.2" y2="467.5"/>
<line x1="876.4" y1="466.4" x2="850.4" y2="496"/>
<line x1="876.4" y1="466.4" x2="983.5" y2="495.1"/>
<line x1="876.4" y1="466.4" x2="1162" y2="501"/>
<line x1="876.4" y1="466.4" x2="865.4" y2="536.7"/>
<line x1="876.4" y1="466.4" x2="941.4" y2="534.7"/>
<line x1="876.4" y1="466.4" x2="1138.7" y2="530.4"/>
<line x1="876.4" y1="466.4" x2="889.3" y2="562.6"/>
<line x1="876.4" y1="466.4" x2="948.4" y2="568.9"/>
<line x1="876.4" y1="466.4" x2="1148.2" y2="569"/>
<line x1="876.4" y1="466.4" x2="1116.8" y2="588.6"/>
<line x1="876.4" y1="466.4" x2="822.6" y2="608.5"/>
<line x1="876.4" y1="466.4" x2="917.7" y2="608"/>
<line x1="876.4" y1="466.4" x2="791.7" y2="620.7"/>
<line x1="876.4" y1="466.4" x2="1076.6" y2="623.4"/>
<line x1="876.4" y1="466.4" x2="865.6" y2="637.7"/>
<line x1="876.4" y1="466.4" x2="1107" y2="638.8"/>
<line x1="876.4" y1="466.4" x2="850.4" y2="682"/>
<line x1="876.4" y1="466.4" x2="1078.3" y2="681.5"/>
<line x1="876.4" y1="466.4" x2="876.5" y2="711.5"/>
<line x1="876.4" y1="466.4" x2="986.5" y2="718.7"/>
<line x1="876.4" y1="466.4" x2="897.5" y2="765"/>
<line x1="876.4" y1="466.4" x2="1076.8" y2="765.6"/>
<line x1="935.2" y1="467.5" x2="925.1" y2="513.4"/>
<line x1="935.2" y1="467.5" x2="832.4" y2="530.4"/>
<line x1="935.2" y1="467.5" x2="1018.6" y2="534.6"/>
<line x1="935.2" y1="467.5" x2="1138.7" y2="530.4"/>
<line x1="935.2" y1="467.5" x2="1005.1" y2="568.8"/>
<line x1="935.2" y1="467.5" x2="1076.8" y2="562.7"/>
<line x1="935.2" y1="467.5" x2="855.4" y2="587.5"/>
<line x1="935.2" y1="467.5" x2="917.7" y2="608"/>
<line x1="935.2" y1="467.5" x2="976.9" y2="618.1"/>
<line x1="935.2" y1="467.5" x2="1107" y2="638.8"/>
<line x1="935.2" y1="467.5" x2="832.4" y2="647"/>
<line x1="935.2" y1="467.5" x2="979.9" y2="653.2"/>
<line x1="935.2" y1="467.5" x2="925.1" y2="672.4"/>
<line x1="935.2" y1="467.5" x2="1041" y2="672.4"/>
<line x1="935.2" y1="467.5" x2="1078.3" y2="681.5"/>
<line x1="935.2" y1="467.5" x2="1125.8" y2="729.1"/>
<line x1="935.2" y1="467.5" x2="1062" y2="734"/>
<line x1="1036.2" y1="467.5" x2="1093.9" y2="466"/>
<line x1="1036.2" y1="467.5" x2="1138.7" y2="530.4"/>
<line x1="1036.2" y1="467.5" x2="948.4" y2="568.9"/>
<line x1="1036.2" y1="467.5" x2="1005.1" y2="568.8"/>
<line x1="1036.2" y1="467.5" x2="789.4" y2="589.7"/>
<line x1="1036.2" y1="467.5" x2="855.4" y2="587.5"/>
<line x1="1036.2" y1="467.5" x2="1116.8" y2="588.6"/>
<line x1="1036.2" y1="467.5" x2="976.9" y2="618.1"/>
<line x1="1036.2" y1="467.5" x2="1148.2" y2="608.3"/>
<line x1="1036.2" y1="467.5" x2="889.3" y2="623.2"/>
<line x1="1036.2" y1="467.5" x2="1076.6" y2="623.4"/>
<line x1="1036.2" y1="467.5" x2="865.6" y2="637.7"/>
<line x1="1036.2" y1="467.5" x2="832.4" y2="647"/>
<line x1="1036.2" y1="467.5" x2="1138.7" y2="646.8"/>
<line x1="1036.2" y1="467.5" x2="1041" y2="672.4"/>
<line x1="1036.2" y1="467.5" x2="1078.3" y2="681.5"/>
<line x1="1036.2" y1="467.5" x2="876.5" y2="711.5"/>
<line x1="1036.2" y1="467.5" x2="937" y2="708.6"/>
<line x1="1036.2" y1="467.5" x2="1037" y2="708.7"/>
<line x1="1036.2" y1="467.5" x2="946.2" y2="748.1"/>
<line x1="1036.2" y1="467.5" x2="1102.3" y2="749.1"/>
<line x1="1036.2" y1="467.5" x2="1017.6" y2="784.5"/>
<line x1="1093.9" y1="466" x2="1078.3" y2="495.6"/>
<line x1="1093.9" y1="466" x2="1041.2" y2="513.5"/>
<line x1="1093.9" y1="466" x2="798.9" y2="529.2"/>
<line x1="1093.9" y1="466" x2="832.4" y2="530.4"/>
<line x1="1093.9" y1="466" x2="1018.6" y2="534.6"/>
<line x1="1093.9" y1="466" x2="1107" y2="538.3"/>
<line x1="1093.9" y1="466" x2="889.3" y2="562.6"/>
<line x1="1093.9" y1="466" x2="1005.1" y2="568.8"/>
<line x1="1093.9" y1="466" x2="1076.8" y2="562.7"/>
<line x1="1093.9" y1="466" x2="789.4" y2="589.7"/>
<line x1="1093.9" y1="466" x2="855.4" y2="587.5"/>
<line x1="1093.9" y1="466" x2="917.7" y2="608"/>
<line x1="1093.9" y1="466" x2="976.9" y2="618.1"/>
<line x1="1093.9" y1="466" x2="1042.4" y2="608"/>
<line x1="1093.9" y1="466" x2="1148.2" y2="608.3"/>
<line x1="1093.9" y1="466" x2="889.3" y2="623.2"/>
<line x1="1093.9" y1="466" x2="865.6" y2="637.7"/>
<line x1="1093.9" y1="466" x2="850.4" y2="682"/>
<line x1="1093.9" y1="466" x2="1041" y2="672.4"/>
<line x1="1093.9" y1="466" x2="1162" y2="679.1"/>
<line x1="1093.9" y1="466" x2="983.5" y2="691.5"/>
<line x1="1093.9" y1="466" x2="1037" y2="708.7"/>
<line x1="1093.9" y1="466" x2="986.5" y2="718.7"/>
<line x1="1093.9" y1="466" x2="909.3" y2="734"/>
<line x1="827.2" y1="474.3" x2="983.5" y2="495.1"/>
<line x1="827.2" y1="474.3" x2="822.6" y2="569.6"/>
<line x1="827.2" y1="474.3" x2="1181.3" y2="559.6"/>
<line x1="827.2" y1="474.3" x2="1138.7" y2="646.8"/>
<line x1="827.2" y1="474.3" x2="894.3" y2="680.5"/>
<line x1="1145.9" y1="474.3" x2="941.4" y2="534.7"/>
<line x1="1145.9" y1="474.3" x2="948.4" y2="568.9"/>
<line x1="1145.9" y1="474.3" x2="979.9" y2="653.2"/>
<line x1="1145.9" y1="474.3" x2="1138.7" y2="646.8"/>
<line x1="1145.9" y1="474.3" x2="1041" y2="672.4"/>
<line x1="1145.9" y1="474.3" x2="937" y2="708.6"/>
<line x1="850.4" y1="496" x2="983.5" y2="495.1"/>
<line x1="850.4" y1="496" x2="1120.6" y2="495.8"/>
<line x1="850.4" y1="496" x2="925.1" y2="513.4"/>
<line x1="850.4" y1="496" x2="1041.2" y2="513.5"/>
<line x1="850.4" y1="496" x2="941.4" y2="534.7"/>
<line x1="850.4" y1="496" x2="1018.6" y2="534.6"/>
<line x1="850.4" y1="496" x2="889.3" y2="562.6"/>
<line x1="850.4" y1="496" x2="822.6" y2="608.5"/>
<line x1="850.4" y1="496" x2="917.7" y2="608"/>
<line x1="850.4" y1="496" x2="889.3" y2="623.2"/>
<line x1="850.4" y1="496" x2="1107" y2="638.8"/>
<line x1="850.4" y1="496" x2="1138.7" y2="646.8"/>
<line x1="850.4" y1="496" x2="850.4" y2="682"/>
<line x1="850.4" y1="496" x2="1041" y2="672.4"/>
<line x1="850.4" y1="496" x2="909.3" y2="734"/>
<line x1="850.4" y1="496" x2="1062" y2="734"/>
<line x1="850.4" y1="496" x2="1024.8" y2="748.1"/>
<line x1="850.4" y1="496" x2="1102.3" y2="749.1"/>
<line x1="893.9" y1="494.9" x2="1078.3" y2="495.6"/>
<line x1="893.9" y1="494.9" x2="1041.2" y2="513.5"/>
<line x1="893.9" y1="494.9" x2="865.4" y2="536.7"/>
<line x1="893.9" y1="494.9" x2="1018.6" y2="534.6"/>
<line x1="893.9" y1="494.9" x2="1107" y2="538.3"/>
<line x1="893.9" y1="494.9" x2="889.3" y2="562.6"/>
<line x1="893.9" y1="494.9" x2="1005.1" y2="568.8"/>
<line x1="893.9" y1="494.9" x2="855.4" y2="587.5"/>
<line x1="893.9" y1="494.9" x2="1116.8" y2="588.6"/>
<line x1="893.9" y1="494.9" x2="822.6" y2="608.5"/>
<line x1="893.9" y1="494.9" x2="1042.4" y2="608"/>
<line x1="893.9" y1="494.9" x2="1148.2" y2="608.3"/>
<line x1="893.9" y1="494.9" x2="889.3" y2="623.2"/>
<line x1="893.9" y1="494.9" x2="1181.2" y2="620.3"/>
<line x1="893.9" y1="494.9" x2="1107" y2="638.8"/>
<line x1="893.9" y1="494.9" x2="979.9" y2="653.2"/>
<line x1="893.9" y1="494.9" x2="1041" y2="672.4"/>
<line x1="893.9" y1="494.9" x2="1120.6" y2="682"/>
<line x1="893.9" y1="494.9" x2="937" y2="708.6"/>
<line x1="893.9" y1="494.9" x2="986.5" y2="718.7"/>
<line x1="893.9" y1="494.9" x2="847.5" y2="729.5"/>
<line x1="893.9" y1="494.9" x2="946.2" y2="748.1"/>
<line x1="893.9" y1="494.9" x2="1017.6" y2="784.5"/>
<line x1="983.5" y1="495.1" x2="1120.6" y2="495.8"/>
<line x1="983.5" y1="495.1" x2="925.1" y2="513.4"/>
<line x1="983.5" y1="495.1" x2="1041.2" y2="513.5"/>
<line x1="983.5" y1="495.1" x2="865.4" y2="536.7"/>
<line x1="983.5" y1="495.1" x2="1018.6" y2="534.6"/>
<line x1="983.5" y1="495.1" x2="1107" y2="538.3"/>
<line x1="983.5" y1="495.1" x2="889.3" y2="562.6"/>
<line x1="983.5" y1="495.1" x2="948.4" y2="568.9"/>
<line x1="983.5" y1="495.1" x2="1005.1" y2="568.8"/>
<line x1="983.5" y1="495.1" x2="1076.8" y2="562.7"/>
<line x1="983.5" y1="495.1" x2="1148.2" y2="569"/>
<line x1="983.5" y1="495.1" x2="1182.8" y2="589.8"/>
<line x1="983.5" y1="495.1" x2="917.7" y2="608"/>
<line x1="983.5" y1="495.1" x2="1042.4" y2="608"/>
<line x1="983.5" y1="495.1" x2="1148.2" y2="608.3"/>
<line x1="983.5" y1="495.1" x2="791.7" y2="620.7"/>
<line x1="983.5" y1="495.1" x2="889.3" y2="623.2"/>
<line x1="983.5" y1="495.1" x2="1076.6" y2="623.4"/>
<line x1="983.5" y1="495.1" x2="865.6" y2="637.7"/>
<line x1="983.5" y1="495.1" x2="1107" y2="638.8"/>
<line x1="983.5" y1="495.1" x2="810.9" y2="679"/>
<line x1="983.5" y1="495.1" x2="850.4" y2="682"/>
<line x1="983.5" y1="495.1" x2="894.3" y2="680.5"/>
<line x1="983.5" y1="495.1" x2="1078.3" y2="681.5"/>
<line x1="983.5" y1="495.1" x2="1162" y2="679.1"/>
<line x1="983.5" y1="495.1" x2="983.5" y2="691.5"/>
<line x1="983.5" y1="495.1" x2="876.5" y2="711.5"/>
<line x1="983.5" y1="495.1" x2="1094.2" y2="711.3"/>
<line x1="983.5" y1="495.1" x2="986.5" y2="718.7"/>
<line x1="983.5" y1="495.1" x2="1125.8" y2="729.1"/>
<line x1="983.5" y1="495.1" x2="1062" y2="734"/>
<line x1="983.5" y1="495.1" x2="871.1" y2="749.1"/>
<line x1="983.5" y1="495.1" x2="946.2" y2="748.1"/>
<line x1="983.5" y1="495.1" x2="1024.8" y2="748.1"/>
<line x1="983.5" y1="495.1" x2="897.5" y2="765"/>
<line x1="983.5" y1="495.1" x2="925.8" y2="777.2"/>
<line x1="983.5" y1="495.1" x2="955.6" y2="784.5"/>
<line x1="1078.3" y1="495.6" x2="1120.6" y2="495.8"/>
<line x1="1078.3" y1="495.6" x2="811.1" y2="500.5"/>
<line x1="1078.3" y1="495.6" x2="1162" y2="501"/>
<line x1="1078.3" y1="495.6" x2="1041.2" y2="513.5"/>
<line x1="1078.3" y1="495.6" x2="1138.7" y2="530.4"/>
<line x1="1078.3" y1="495.6" x2="1173.8" y2="528.8"/>
<line x1="1078.3" y1="495.6" x2="976.9" y2="618.1"/>
<line x1="1078.3" y1="495.6" x2="889.3" y2="623.2"/>
<line x1="1078.3" y1="495.6" x2="1076.6" y2="623.4"/>
<line x1="1078.3" y1="495.6" x2="865.6" y2="637.7"/>
<line x1="1078.3" y1="495.6" x2="1107" y2="638.8"/>
<line x1="1078.3" y1="495.6" x2="798.9" y2="650.8"/>
<line x1="1078.3" y1="495.6" x2="832.4" y2="647"/>
<line x1="1078.3" y1="495.6" x2="1138.7" y2="646.8"/>
<line x1="1078.3" y1="495.6" x2="925.1" y2="672.4"/>
<line x1="1078.3" y1="495.6" x2="1041" y2="672.4"/>
<line x1="1078.3" y1="495.6" x2="983.5" y2="691.5"/>
<line x1="1078.3" y1="495.6" x2="937" y2="708.6"/>
<line x1="1078.3" y1="495.6" x2="986.5" y2="718.7"/>
<line x1="1078.3" y1="495.6" x2="909.3" y2="734"/>
<line x1="1078.3" y1="495.6" x2="871.1" y2="749.1"/>
<line x1="1078.3" y1="495.6" x2="946.2" y2="748.1"/>
<line x1="1078.3" y1="495.6" x2="985.3" y2="752.9"/>
<line x1="1078.3" y1="495.6" x2="1047.5" y2="777.2"/>
<line x1="1120.6" y1="495.8" x2="889.3" y2="562.6"/>
<line x1="1120.6" y1="495.8" x2="948.4" y2="568.9"/>
<line x1="1120.6" y1="495.8" x2="1076.8" y2="562.7"/>
<line x1="1120.6" y1="495.8" x2="1148.2" y2="569"/>
<line x1="1120.6" y1="495.8" x2="1116.8" y2="588.6"/>
<line x1="1120.6" y1="495.8" x2="865.6" y2="637.7"/>
<line x1="1120.6" y1="495.8" x2="832.4" y2="647"/>
<line x1="1120.6" y1="495.8" x2="985.3" y2="752.9"/>
<line x1="1120.6" y1="495.8" x2="955.6" y2="784.5"/>
<line x1="811.1" y1="500.5" x2="865.4" y2="536.7"/>
<line x1="811.1" y1="500.5" x2="822.6" y2="569.6"/>
<line x1="811.1" y1="500.5" x2="1148.2" y2="569"/>
<line x1="811.1" y1="500.5" x2="789.4" y2="589.7"/>
<line x1="811.1" y1="500.5" x2="822.6" y2="608.5"/>
<line x1="811.1" y1="500.5" x2="865.6" y2="637.7"/>
<line x1="811.1" y1="500.5" x2="1107" y2="638.8"/>
<line x1="811.1" y1="500.5" x2="1138.7" y2="646.8"/>
<line x1="811.1" y1="500.5" x2="925.1" y2="672.4"/>
<line x1="811.1" y1="500.5" x2="1125.8" y2="729.1"/>
<line x1="811.1" y1="500.5" x2="1062" y2="734"/>
<line x1="811.1" y1="500.5" x2="1102.3" y2="749.1"/>
<line x1="811.1" y1="500.5" x2="925.8" y2="777.2"/>
<line x1="1162" y1="501" x2="1041.2" y2="513.5"/>
<line x1="1162" y1="501" x2="865.4" y2="536.7"/>
<line x1="1162" y1="501" x2="889.3" y2="562.6"/>
<line x1="1162" y1="501" x2="1005.1" y2="568.8"/>
<line x1="1162" y1="501" x2="855.4" y2="587.5"/>
<line x1="1162" y1="501" x2="917.7" y2="608"/>
<line x1="1162" y1="501" x2="976.9" y2="618.1"/>
<line x1="1162" y1="501" x2="925.1" y2="672.4"/>
<line x1="1162" y1="501" x2="827.2" y2="705.7"/>
<line x1="1162" y1="501" x2="876.5" y2="711.5"/>
<line x1="1162" y1="501" x2="1037" y2="708.7"/>
<line x1="925.1" y1="513.4" x2="832.4" y2="530.4"/>
<line x1="925.1" y1="513.4" x2="941.4" y2="534.7"/>
<line x1="925.1" y1="513.4" x2="1018.6" y2="534.6"/>
<line x1="925.1" y1="513.4" x2="1107" y2="538.3"/>
<line x1="925.1" y1="513.4" x2="1138.7" y2="530.4"/>
<line x1="925.1" y1="513.4" x2="1173.8" y2="528.8"/>
<line x1="925.1" y1="513.4" x2="889.3" y2="562.6"/>
<line x1="925.1" y1="513.4" x2="948.4" y2="568.9"/>
<line x1="925.1" y1="513.4" x2="1005.1" y2="568.8"/>
<line x1="925.1" y1="513.4" x2="1076.8" y2="562.7"/>
<line x1="925.1" y1="513.4" x2="855.4" y2="587.5"/>
<line x1="925.1" y1="513.4" x2="917.7" y2="608"/>
<line x1="925.1" y1="513.4" x2="1042.4" y2="608"/>
<line x1="925.1" y1="513.4" x2="1076.6" y2="623.4"/>
<line x1="925.1" y1="513.4" x2="865.6" y2="637.7"/>
<line x1="925.1" y1="513.4" x2="979.9" y2="653.2"/>
<line x1="925.1" y1="513.4" x2="1173.8" y2="650.8"/>
<line x1="925.1" y1="513.4" x2="894.3" y2="680.5"/>
<line x1="925.1" y1="513.4" x2="1041" y2="672.4"/>
<line x1="925.1" y1="513.4" x2="1078.3" y2="681.5"/>
<line x1="925.1" y1="513.4" x2="983.5" y2="691.5"/>
<line x1="925.1" y1="513.4" x2="827.2" y2="705.7"/>
<line x1="925.1" y1="513.4" x2="1062" y2="734"/>
<line x1="925.1" y1="513.4" x2="985.3" y2="752.9"/>
<line x1="925.1" y1="513.4" x2="1024.8" y2="748.1"/>
<line x1="925.1" y1="513.4" x2="955.6" y2="784.5"/>
<line x1="925.1" y1="513.4" x2="987" y2="787.3"/>
<line x1="1041.2" y1="513.5" x2="832.4" y2="530.4"/>
<line x1="1041.2" y1="513.5" x2="1018.6" y2="534.6"/>
<line x1="1041.2" y1="513.5" x2="1138.7" y2="530.4"/>
<line x1="1041.2" y1="513.5" x2="791.7" y2="559.2"/>
<line x1="1041.2" y1="513.5" x2="948.4" y2="568.9"/>
<line x1="1041.2" y1="513.5" x2="1005.1" y2="568.8"/>
<line x1="1041.2" y1="513.5" x2="1181.3" y2="559.6"/>
<line x1="1041.2" y1="513.5" x2="976.9" y2="618.1"/>
<line x1="1041.2" y1="513.5" x2="1042.4" y2="608"/>
<line x1="1041.2" y1="513.5" x2="1076.6" y2="623.4"/>
<line x1="1041.2" y1="513.5" x2="1107" y2="638.8"/>
<line x1="1041.2" y1="513.5" x2="798.9" y2="650.8"/>
<line x1="1041.2" y1="513.5" x2="850.4" y2="682"/>
<line x1="1041.2" y1="513.5" x2="1041" y2="672.4"/>
<line x1="1041.2" y1="513.5" x2="1120.6" y2="682"/>
<line x1="1041.2" y1="513.5" x2="1162" y2="679.1"/>
<line x1="1041.2" y1="513.5" x2="827.2" y2="705.7"/>
<line x1="1041.2" y1="513.5" x2="937" y2="708.6"/>
<line x1="1041.2" y1="513.5" x2="986.5" y2="718.7"/>
<line x1="1041.2" y1="513.5" x2="909.3" y2="734"/>
<line x1="1041.2" y1="513.5" x2="946.2" y2="748.1"/>
<line x1="1041.2" y1="513.5" x2="985.3" y2="752.9"/>
<line x1="1041.2" y1="513.5" x2="987" y2="787.3"/>
<line x1="1041.2" y1="513.5" x2="1047.5" y2="777.2"/>
<line x1="798.9" y1="529.2" x2="948.4" y2="568.9"/>
<line x1="798.9" y1="529.2" x2="822.6" y2="608.5"/>
<line x1="798.9" y1="529.2" x2="917.7" y2="608"/>
<line x1="798.9" y1="529.2" x2="865.6" y2="637.7"/>
<line x1="798.9" y1="529.2" x2="832.4" y2="647"/>
<line x1="798.9" y1="529.2" x2="1138.7" y2="646.8"/>
<line x1="798.9" y1="529.2" x2="925.1" y2="672.4"/>
<line x1="798.9" y1="529.2" x2="876.5" y2="711.5"/>
<line x1="832.4" y1="530.4" x2="865.4" y2="536.7"/>
<line x1="832.4" y1="530.4" x2="941.4" y2="534.7"/>
<line x1="832.4" y1="530.4" x2="1005.1" y2="568.8"/>
<line x1="832.4" y1="530.4" x2="1148.2" y2="569"/>
<line x1="832.4" y1="530.4" x2="822.6" y2="608.5"/>
<line x1="832.4" y1="530.4" x2="976.9" y2="618.1"/>
<line x1="832.4" y1="530.4" x2="1042.4" y2="608"/>
<line x1="832.4" y1="530.4" x2="1076.6" y2="623.4"/>
<line x1="832.4" y1="530.4" x2="865.6" y2="637.7"/>
<line x1="832.4" y1="530.4" x2="810.9" y2="679"/>
<line x1="832.4" y1="530.4" x2="1041" y2="672.4"/>
<line x1="832.4" y1="530.4" x2="983.5" y2="691.5"/>
<line x1="832.4" y1="530.4" x2="1145.9" y2="705.6"/>
<line x1="832.4" y1="530.4" x2="986.5" y2="718.7"/>
<line x1="832.4" y1="530.4" x2="1076.8" y2="765.6"/>
<line x1="865.4" y1="536.7" x2="941.4" y2="534.7"/>
<line x1="865.4" y1="536.7" x2="1107" y2="538.3"/>
<line x1="865.4" y1="536.7" x2="1138.7" y2="530.4"/>
<line x1="865.4" y1="536.7" x2="889.3" y2="562.6"/>
<line x1="865.4" y1="536.7" x2="948.4" y2="568.9"/>
<line x1="865.4" y1="536.7" x2="1005.1" y2="568.8"/>
<line x1="865.4" y1="536.7" x2="1076.8" y2="562.7"/>
<line x1="865.4" y1="536.7" x2="822.6" y2="608.5"/>
<line x1="865.4" y1="536.7" x2="917.7" y2="608"/>
<line x1="865.4" y1="536.7" x2="976.9" y2="618.1"/>
<line x1="865.4" y1="536.7" x2="1042.4" y2="608"/>
<line x1="865.4" y1="536.7" x2="1148.2" y2="608.3"/>
<line x1="865.4" y1="536.7" x2="1076.6" y2="623.4"/>
<line x1="865.4" y1="536.7" x2="865.6" y2="637.7"/>
<line x1="865.4" y1="536.7" x2="925.1" y2="672.4"/>
<line x1="865.4" y1="536.7" x2="1041" y2="672.4"/>
<line x1="865.4" y1="536.7" x2="937" y2="708.6"/>
<line x1="865.4" y1="536.7" x2="986.5" y2="718.7"/>
<line x1="865.4" y1="536.7" x2="1024.8" y2="748.1"/>
<line x1="865.4" y1="536.7" x2="925.8" y2="777.2"/>
<line x1="865.4" y1="536.7" x2="1047.5" y2="777.2"/>
<line x1="941.4" y1="534.7" x2="1018.6" y2="534.6"/>
<line x1="941.4" y1="534.7" x2="1107" y2="538.3"/>
<line x1="941.4" y1="534.7" x2="1138.7" y2="530.4"/>
<line x1="941.4" y1="534.7" x2="822.6" y2="569.6"/>
<line x1="941.4" y1="534.7" x2="889.3" y2="562.6"/>
<line x1="941.4" y1="534.7" x2="1005.1" y2="568.8"/>
<line x1="941.4" y1="534.7" x2="1116.8" y2="588.6"/>
<line x1="941.4" y1="534.7" x2="976.9" y2="618.1"/>
<line x1="941.4" y1="534.7" x2="1042.4" y2="608"/>
<line x1="941.4" y1="534.7" x2="1148.2" y2="608.3"/>
<line x1="941.4" y1="534.7" x2="1076.6" y2="623.4"/>
<line x1="941.4" y1="534.7" x2="798.9" y2="650.8"/>
<line x1="941.4" y1="534.7" x2="1138.7" y2="646.8"/>
<line x1="941.4" y1="534.7" x2="850.4" y2="682"/>
<line x1="941.4" y1="534.7" x2="925.1" y2="672.4"/>
<line x1="941.4" y1="534.7" x2="1078.3" y2="681.5"/>
<line x1="941.4" y1="534.7" x2="1120.6" y2="682"/>
<line x1="941.4" y1="534.7" x2="983.5" y2="691.5"/>
<line x1="941.4" y1="534.7" x2="937" y2="708.6"/>
<line x1="941.4" y1="534.7" x2="1037" y2="708.7"/>
<line x1="941.4" y1="534.7" x2="986.5" y2="718.7"/>
<line x1="941.4" y1="534.7" x2="946.2" y2="748.1"/>
<line x1="941.4" y1="534.7" x2="985.3" y2="752.9"/>
<line x1="941.4" y1="534.7" x2="1024.8" y2="748.1"/>
<line x1="941.4" y1="534.7" x2="925.8" y2="777.2"/>
<line x1="941.4" y1="534.7" x2="955.6" y2="784.5"/>
<line x1="941.4" y1="534.7" x2="1017.6" y2="784.5"/>
<line x1="1018.6" y1="534.6" x2="1107" y2="538.3"/>
<line x1="1018.6" y1="534.6" x2="1138.7" y2="530.4"/>
<line x1="1018.6" y1="534.6" x2="1173.8" y2="528.8"/>
<line x1="1018.6" y1="534.6" x2="889.3" y2="562.6"/>
<line x1="1018.6" y1="534.6" x2="948.4" y2="568.9"/>
<line x1="1018.6" y1="534.6" x2="1005.1" y2="568.8"/>
<line x1="1018.6" y1="534.6" x2="1076.8" y2="562.7"/>
<line x1="1018.6" y1="534.6" x2="855.4" y2="587.5"/>
<line x1="1018.6" y1="534.6" x2="1116.8" y2="588.6"/>
<line x1="1018.6" y1="534.6" x2="822.6" y2="608.5"/>
<line x1="1018.6" y1="534.6" x2="917.7" y2="608"/>
<line x1="1018.6" y1="534.6" x2="976.9" y2="618.1"/>
<line x1="1018.6" y1="534.6" x2="1042.4" y2="608"/>
<line x1="1018.6" y1="534.6" x2="889.3" y2="623.2"/>
<line x1="1018.6" y1="534.6" x2="865.6" y2="637.7"/>
<line x1="1018.6" y1="534.6" x2="1107" y2="638.8"/>
<line x1="1018.6" y1="534.6" x2="979.9" y2="653.2"/>
<line x1="1018.6" y1="534.6" x2="925.1" y2="672.4"/>
<line x1="1018.6" y1="534.6" x2="1041" y2="672.4"/>
<line x1="1018.6" y1="534.6" x2="983.5" y2="691.5"/>
<line x1="1018.6" y1="534.6" x2="876.5" y2="711.5"/>
<line x1="1018.6" y1="534.6" x2="937" y2="708.6"/>
<line x1="1018.6" y1="534.6" x2="986.5" y2="718.7"/>
<line x1="1018.6" y1="534.6" x2="985.3" y2="752.9"/>
<line x1="1018.6" y1="534.6" x2="897.5" y2="765"/>
<line x1="1018.6" y1="534.6" x2="925.8" y2="777.2"/>
<line x1="1018.6" y1="534.6" x2="987" y2="787.3"/>
<line x1="1107" y1="538.3" x2="822.6" y2="569.6"/>
<line x1="1107" y1="538.3" x2="1005.1" y2="568.8"/>
<line x1="1107" y1="538.3" x2="1148.2" y2="569"/>
<line x1="1107" y1="538.3" x2="855.4" y2="587.5"/>
<line x1="1107" y1="538.3" x2="976.9" y2="618.1"/>
<line x1="1107" y1="538.3" x2="1042.4" y2="608"/>
<line x1="1107" y1="538.3" x2="1148.2" y2="608.3"/>
<line x1="1107" y1="538.3" x2="889.3" y2="623.2"/>
<line x1="1107" y1="538.3" x2="1076.6" y2="623.4"/>
<line x1="1107" y1="538.3" x2="1107" y2="638.8"/>
<line x1="1107" y1="538.3" x2="979.9" y2="653.2"/>
<line x1="1107" y1="538.3" x2="1173.8" y2="650.8"/>
<line x1="1107" y1="538.3" x2="925.1" y2="672.4"/>
<line x1="1107" y1="538.3" x2="937" y2="708.6"/>
<line x1="1107" y1="538.3" x2="1037" y2="708.7"/>
<line x1="1107" y1="538.3" x2="986.5" y2="718.7"/>
<line x1="1107" y1="538.3" x2="847.5" y2="729.5"/>
<line x1="1107" y1="538.3" x2="1024.8" y2="748.1"/>
<line x1="1107" y1="538.3" x2="1047.5" y2="777.2"/>
<line x1="1138.7" y1="530.4" x2="855.4" y2="587.5"/>
<line x1="1138.7" y1="530.4" x2="822.6" y2="608.5"/>
<line x1="1138.7" y1="530.4" x2="889.3" y2="623.2"/>
<line x1="1138.7" y1="530.4" x2="1076.6" y2="623.4"/>
<line x1="1138.7" y1="530.4" x2="1078.3" y2="681.5"/>
<line x1="1138.7" y1="530.4" x2="1120.6" y2="682"/>
<line x1="1138.7" y1="530.4" x2="983.5" y2="691.5"/>
<line x1="1138.7" y1="530.4" x2="1037" y2="708.7"/>
<line x1="1138.7" y1="530.4" x2="1102.3" y2="749.1"/>
<line x1="1138.7" y1="530.4" x2="1076.8" y2="765.6"/>
<line x1="1138.7" y1="530.4" x2="1017.6" y2="784.5"/>
<line x1="1173.8" y1="528.8" x2="1116.8" y2="588.6"/>
<line x1="1173.8" y1="528.8" x2="889.3" y2="623.2"/>
<line x1="1173.8" y1="528.8" x2="937" y2="708.6"/>
<line x1="1173.8" y1="528.8" x2="985.3" y2="752.9"/>
<line x1="791.7" y1="559.2" x2="1005.1" y2="568.8"/>
<line x1="791.7" y1="559.2" x2="855.4" y2="587.5"/>
<line x1="791.7" y1="559.2" x2="1182.8" y2="589.8"/>
<line x1="791.7" y1="559.2" x2="917.7" y2="608"/>
<line x1="791.7" y1="559.2" x2="976.9" y2="618.1"/>
<line x1="791.7" y1="559.2" x2="979.9" y2="653.2"/>
<line x1="822.6" y1="569.6" x2="976.9" y2="618.1"/>
<line x1="822.6" y1="569.6" x2="1076.6" y2="623.4"/>
<line x1="822.6" y1="569.6" x2="850.4" y2="682"/>
<line x1="822.6" y1="569.6" x2="894.3" y2="680.5"/>
<line x1="822.6" y1="569.6" x2="876.5" y2="711.5"/>
<line x1="822.6" y1="569.6" x2="937" y2="708.6"/>
<line x1="822.6" y1="569.6" x2="1094.2" y2="711.3"/>
<line x1="822.6" y1="569.6" x2="909.3" y2="734"/>
<line x1="822.6" y1="569.6" x2="1062" y2="734"/>
<line x1="822.6" y1="569.6" x2="946.2" y2="748.1"/>
<line x1="822.6" y1="569.6" x2="985.3" y2="752.9"/>
<line x1="822.6" y1="569.6" x2="955.6" y2="784.5"/>
<line x1="889.3" y1="562.6" x2="948.4" y2="568.9"/>
<line x1="889.3" y1="562.6" x2="1005.1" y2="568.8"/>
<line x1="889.3" y1="562.6" x2="1076.8" y2="562.7"/>
<line x1="889.3" y1="562.6" x2="1116.8" y2="588.6"/>
<line x1="889.3" y1="562.6" x2="917.7" y2="608"/>
<line x1="889.3" y1="562.6" x2="976.9" y2="618.1"/>
<line x1="889.3" y1="562.6" x2="1042.4" y2="608"/>
<line x1="889.3" y1="562.6" x2="1107" y2="638.8"/>
<line x1="889.3" y1="562.6" x2="832.4" y2="647"/>
<line x1="889.3" y1="562.6" x2="979.9" y2="653.2"/>
<line x1="889.3" y1="562.6" x2="894.3" y2="680.5"/>
<line x1="889.3" y1="562.6" x2="1078.3" y2="681.5"/>
<line x1="889.3" y1="562.6" x2="1120.6" y2="682"/>
<line x1="889.3" y1="562.6" x2="1162" y2="679.1"/>
<line x1="889.3" y1="562.6" x2="937" y2="708.6"/>
<line x1="889.3" y1="562.6" x2="1125.8" y2="729.1"/>
<line x1="889.3" y1="562.6" x2="909.3" y2="734"/>
<line x1="889.3" y1="562.6" x2="1062" y2="734"/>
<line x1="889.3" y1="562.6" x2="871.1" y2="749.1"/>
<line x1="889.3" y1="562.6" x2="1024.8" y2="748.1"/>
<line x1="889.3" y1="562.6" x2="1102.3" y2="749.1"/>
<line x1="948.4" y1="568.9" x2="855.4" y2="587.5"/>
<line x1="948.4" y1="568.9" x2="1116.8" y2="588.6"/>
<line x1="948.4" y1="568.9" x2="822.6" y2="608.5"/>
<line x1="948.4" y1="568.9" x2="917.7" y2="608"/>
<line x1="948.4" y1="568.9" x2="976.9" y2="618.1"/>
<line x1="948.4" y1="568.9" x2="1042.4" y2="608"/>
<line x1="948.4" y1="568.9" x2="1076.6" y2="623.4"/>
<line x1="948.4" y1="568.9" x2="865.6" y2="637.7"/>
<line x1="948.4" y1="568.9" x2="1107" y2="638.8"/>
<line x1="948.4" y1="568.9" x2="832.4" y2="647"/>
<line x1="948.4" y1="568.9" x2="979.9" y2="653.2"/>
<line x1="948.4" y1="568.9" x2="1138.7" y2="646.8"/>
<line x1="948.4" y1="568.9" x2="894.3" y2="680.5"/>
<line x1="948.4" y1="568.9" x2="1041" y2="672.4"/>
<line x1="948.4" y1="568.9" x2="983.5" y2="691.5"/>
<line x1="948.4" y1="568.9" x2="827.2" y2="705.7"/>
<line x1="948.4" y1="568.9" x2="937" y2="708.6"/>
<line x1="948.4" y1="568.9" x2="1037" y2="708.7"/>
<line x1="948.4" y1="568.9" x2="1094.2" y2="711.3"/>
<line x1="948.4" y1="568.9" x2="871.1" y2="749.1"/>
<line x1="948.4" y1="568.9" x2="946.2" y2="748.1"/>
<line x1="948.4" y1="568.9" x2="1024.8" y2="748.1"/>
<line x1="948.4" y1="568.9" x2="897.5" y2="765"/>
<line x1="948.4" y1="568.9" x2="1047.5" y2="777.2"/>
<line x1="1005.1" y1="568.8" x2="1116.8" y2="588.6"/>
<line x1="1005.1" y1="568.8" x2="822.6" y2="608.5"/>
<line x1="1005.1" y1="568.8" x2="976.9" y2="618.1"/>
<line x1="1005.1" y1="568.8" x2="1042.4" y2="608"/>
<line x1="1005.1" y1="568.8" x2="1148.2" y2="608.3"/>
<line x1="1005.1" y1="568.8" x2="1076.6" y2="623.4"/>
<line x1="1005.1" y1="568.8" x2="865.6" y2="637.7"/>
<line x1="1005.1" y1="568.8" x2="1107" y2="638.8"/>
<line x1="1005.1" y1="568.8" x2="832.4" y2="647"/>
<line x1="1005.1" y1="568.8" x2="979.9" y2="653.2"/>
<line x1="1005.1" y1="568.8" x2="1138.7" y2="646.8"/>
<line x1="1005.1" y1="568.8" x2="925.1" y2="672.4"/>
<line x1="1005.1" y1="568.8" x2="1041" y2="672.4"/>
<line x1="1005.1" y1="568.8" x2="1078.3" y2="681.5"/>
<line x1="1005.1" y1="568.8" x2="1162" y2="679.1"/>
<line x1="1005.1" y1="568.8" x2="1037" y2="708.7"/>
<line x1="1005.1" y1="568.8" x2="986.5" y2="718.7"/>
<line x1="1005.1" y1="568.8" x2="1125.8" y2="729.1"/>
<line x1="1005.1" y1="568.8" x2="909.3" y2="734"/>
<line x1="1005.1" y1="568.8" x2="1062" y2="734"/>
<line x1="1005.1" y1="568.8" x2="871.1" y2="749.1"/>
<line x1="1005.1" y1="568.8" x2="1102.3" y2="749.1"/>
<line x1="1076.8" y1="562.7" x2="1181.3" y2="559.6"/>
<line x1="1076.8" y1="562.7" x2="789.4" y2="589.7"/>
<line x1="1076.8" y1="562.7" x2="1116.8" y2="588.6"/>
<line x1="1076.8" y1="562.7" x2="822.6" y2="608.5"/>
<line x1="1076.8" y1="562.7" x2="976.9" y2="618.1"/>
<line x1="1076.8" y1="562.7" x2="1042.4" y2="608"/>
<line x1="1076.8" y1="562.7" x2="1148.2" y2="608.3"/>
<line x1="1076.8" y1="562.7" x2="791.7" y2="620.7"/>
<line x1="1076.8" y1="562.7" x2="798.9" y2="650.8"/>
<line x1="1076.8" y1="562.7" x2="850.4" y2="682"/>
<line x1="1076.8" y1="562.7" x2="894.3" y2="680.5"/>
<line x1="1076.8" y1="562.7" x2="925.1" y2="672.4"/>
<line x1="1076.8" y1="562.7" x2="1041" y2="672.4"/>
<line x1="1076.8" y1="562.7" x2="937" y2="708.6"/>
<line x1="1076.8" y1="562.7" x2="1037" y2="708.7"/>
<line x1="1076.8" y1="562.7" x2="986.5" y2="718.7"/>
<line x1="1076.8" y1="562.7" x2="847.5" y2="729.5"/>
<line x1="1076.8" y1="562.7" x2="1047.5" y2="777.2"/>
<line x1="1148.2" y1="569" x2="822.6" y2="608.5"/>
<line x1="1148.2" y1="569" x2="1042.4" y2="608"/>
<line x1="1148.2" y1="569" x2="889.3" y2="623.2"/>
<line x1="1148.2" y1="569" x2="1076.6" y2="623.4"/>
<line x1="1148.2" y1="569" x2="1078.3" y2="681.5"/>
<line x1="1148.2" y1="569" x2="1120.6" y2="682"/>
<line x1="1148.2" y1="569" x2="983.5" y2="691.5"/>
<line x1="1148.2" y1="569" x2="876.5" y2="711.5"/>
<line x1="1148.2" y1="569" x2="937" y2="708.6"/>
<line x1="1148.2" y1="569" x2="1037" y2="708.7"/>
<line x1="1148.2" y1="569" x2="986.5" y2="718.7"/>
<line x1="1148.2" y1="569" x2="1062" y2="734"/>
<line x1="1148.2" y1="569" x2="925.8" y2="777.2"/>
<line x1="1181.3" y1="559.6" x2="976.9" y2="618.1"/>
<line x1="1181.3" y1="559.6" x2="889.3" y2="623.2"/>
<line x1="1181.3" y1="559.6" x2="865.6" y2="637.7"/>
<line x1="1181.3" y1="559.6" x2="1173.8" y2="650.8"/>
<line x1="1181.3" y1="559.6" x2="1041" y2="672.4"/>
<line x1="1181.3" y1="559.6" x2="985.3" y2="752.9"/>
<line x1="1181.3" y1="559.6" x2="1024.8" y2="748.1"/>
<line x1="789.4" y1="589.7" x2="855.4" y2="587.5"/>
<line x1="789.4" y1="589.7" x2="917.7" y2="608"/>
<line x1="789.4" y1="589.7" x2="1041" y2="672.4"/>
<line x1="789.4" y1="589.7" x2="1094.2" y2="711.3"/>
<line x1="789.4" y1="589.7" x2="1145.9" y2="705.6"/>
<line x1="855.4" y1="587.5" x2="1042.4" y2="608"/>
<line x1="855.4" y1="587.5" x2="1076.6" y2="623.4"/>
<line x1="855.4" y1="587.5" x2="1181.2" y2="620.3"/>
<line x1="855.4" y1="587.5" x2="865.6" y2="637.7"/>
<line x1="855.4" y1="587.5" x2="1107" y2="638.8"/>
<line x1="855.4" y1="587.5" x2="1173.8" y2="650.8"/>
<line x1="855.4" y1="587.5" x2="894.3" y2="680.5"/>
<line x1="855.4" y1="587.5" x2="925.1" y2="672.4"/>
<line x1="855.4" y1="587.5" x2="1041" y2="672.4"/>
<line x1="855.4" y1="587.5" x2="1078.3" y2="681.5"/>
<line x1="855.4" y1="587.5" x2="983.5" y2="691.5"/>
<line x1="855.4" y1="587.5" x2="1094.2" y2="711.3"/>
<line x1="855.4" y1="587.5" x2="987" y2="787.3"/>
<line x1="1116.8" y1="588.6" x2="1182.8" y2="589.8"/>
<line x1="1116.8" y1="588.6" x2="917.7" y2="608"/>
<line x1="1116.8" y1="588.6" x2="976.9" y2="618.1"/>
<line x1="1116.8" y1="588.6" x2="1042.4" y2="608"/>
<line x1="1116.8" y1="588.6" x2="889.3" y2="623.2"/>
<line x1="1116.8" y1="588.6" x2="810.9" y2="679"/>
<line x1="1116.8" y1="588.6" x2="894.3" y2="680.5"/>
<line x1="1116.8" y1="588.6" x2="925.1" y2="672.4"/>
<line x1="1116.8" y1="588.6" x2="1037" y2="708.7"/>
<line x1="1116.8" y1="588.6" x2="1094.2" y2="711.3"/>
<line x1="1116.8" y1="588.6" x2="1145.9" y2="705.6"/>
<line x1="1116.8" y1="588.6" x2="1125.8" y2="729.1"/>
<line x1="1116.8" y1="588.6" x2="1024.8" y2="748.1"/>
<line x1="1116.8" y1="588.6" x2="897.5" y2="765"/>
<line x1="1182.8" y1="589.8" x2="1138.7" y2="646.8"/>
<line x1="1182.8" y1="589.8" x2="810.9" y2="679"/>
<line x1="1182.8" y1="589.8" x2="1037" y2="708.7"/>
<line x1="822.6" y1="608.5" x2="976.9" y2="618.1"/>
<line x1="822.6" y1="608.5" x2="1042.4" y2="608"/>
<line x1="822.6" y1="608.5" x2="1173.8" y2="650.8"/>
<line x1="822.6" y1="608.5" x2="894.3" y2="680.5"/>
<line x1="822.6" y1="608.5" x2="1041" y2="672.4"/>
<line x1="822.6" y1="608.5" x2="1120.6" y2="682"/>
<line x1="822.6" y1="608.5" x2="983.5" y2="691.5"/>
<line x1="822.6" y1="608.5" x2="1037" y2="708.7"/>
<line x1="822.6" y1="608.5" x2="986.5" y2="718.7"/>
<line x1="822.6" y1="608.5" x2="897.5" y2="765"/>
<line x1="822.6" y1="608.5" x2="1047.5" y2="777.2"/>
<line x1="917.7" y1="608" x2="976.9" y2="618.1"/>
<line x1="917.7" y1="608" x2="1042.4" y2="608"/>
<line x1="917.7" y1="608" x2="889.3" y2="623.2"/>
<line x1="917.7" y1="608" x2="1076.6" y2="623.4"/>
<line x1="917.7" y1="608" x2="865.6" y2="637.7"/>
<line x1="917.7" y1="608" x2="1107" y2="638.8"/>
<line x1="917.7" y1="608" x2="798.9" y2="650.8"/>
<line x1="917.7" y1="608" x2="979.9" y2="653.2"/>
<line x1="917.7" y1="608" x2="1138.7" y2="646.8"/>
<line x1="917.7" y1="608" x2="925.1" y2="672.4"/>
<line x1="917.7" y1="608" x2="1162" y2="679.1"/>
<line x1="917.7" y1="608" x2="983.5" y2="691.5"/>
<line x1="917.7" y1="608" x2="827.2" y2="705.7"/>
<line x1="917.7" y1="608" x2="876.5" y2="711.5"/>
<line x1="917.7" y1="608" x2="1037" y2="708.7"/>
<line x1="917.7" y1="608" x2="986.5" y2="718.7"/>
<line x1="917.7" y1="608" x2="847.5" y2="729.5"/>
<line x1="917.7" y1="608" x2="909.3" y2="734"/>
<line x1="917.7" y1="608" x2="1017.6" y2="784.5"/>
<line x1="917.7" y1="608" x2="1047.5" y2="777.2"/>
<line x1="976.9" y1="618.1" x2="1076.6" y2="623.4"/>
<line x1="976.9" y1="618.1" x2="798.9" y2="650.8"/>
<line x1="976.9" y1="618.1" x2="832.4" y2="647"/>
<line x1="976.9" y1="618.1" x2="979.9" y2="653.2"/>
<line x1="976.9" y1="618.1" x2="894.3" y2="680.5"/>
<line x1="976.9" y1="618.1" x2="1041" y2="672.4"/>
<line x1="976.9" y1="618.1" x2="1078.3" y2="681.5"/>
<line x1="976.9" y1="618.1" x2="1162" y2="679.1"/>
<line x1="976.9" y1="618.1" x2="983.5" y2="691.5"/>
<line x1="976.9" y1="618.1" x2="876.5" y2="711.5"/>
<line x1="976.9" y1="618.1" x2="937" y2="708.6"/>
<line x1="976.9" y1="618.1" x2="1145.9" y2="705.6"/>
<line x1="976.9" y1="618.1" x2="986.5" y2="718.7"/>
<line x1="976.9" y1="618.1" x2="847.5" y2="729.5"/>
<line x1="976.9" y1="618.1" x2="897.5" y2="765"/>
<line x1="976.9" y1="618.1" x2="1047.5" y2="777.2"/>
<line x1="1042.4" y1="608" x2="791.7" y2="620.7"/>
<line x1="1042.4" y1="608" x2="889.3" y2="623.2"/>
<line x1="1042.4" y1="608" x2="1076.6" y2="623.4"/>
<line x1="1042.4" y1="608" x2="865.6" y2="637.7"/>
<line x1="1042.4" y1="608" x2="798.9" y2="650.8"/>
<line x1="1042.4" y1="608" x2="832.4" y2="647"/>
<line x1="1042.4" y1="608" x2="979.9" y2="653.2"/>
<line x1="1042.4" y1="608" x2="1138.7" y2="646.8"/>
<line x1="1042.4" y1="608" x2="1173.8" y2="650.8"/>
<line x1="1042.4" y1="608" x2="810.9" y2="679"/>
<line x1="1042.4" y1="608" x2="894.3" y2="680.5"/>
<line x1="1042.4" y1="608" x2="925.1" y2="672.4"/>
<line x1="1042.4" y1="608" x2="1120.6" y2="682"/>
<line x1="1042.4" y1="608" x2="1162" y2="679.1"/>
<line x1="1042.4" y1="608" x2="983.5" y2="691.5"/>
<line x1="1042.4" y1="608" x2="827.2" y2="705.7"/>
<line x1="1042.4" y1="608" x2="1037" y2="708.7"/>
<line x1="1042.4" y1="608" x2="1094.2" y2="711.3"/>
<line x1="1042.4" y1="608" x2="986.5" y2="718.7"/>
<line x1="1042.4" y1="608" x2="909.3" y2="734"/>
<line x1="1042.4" y1="608" x2="1102.3" y2="749.1"/>
<line x1="1042.4" y1="608" x2="1076.8" y2="765.6"/>
<line x1="1148.2" y1="608.3" x2="1181.2" y2="620.3"/>
<line x1="1148.2" y1="608.3" x2="1138.7" y2="646.8"/>
<line x1="1148.2" y1="608.3" x2="1173.8" y2="650.8"/>
<line x1="1148.2" y1="608.3" x2="810.9" y2="679"/>
<line x1="1148.2" y1="608.3" x2="850.4" y2="682"/>
<line x1="1148.2" y1="608.3" x2="1076.8" y2="765.6"/>
<line x1="791.7" y1="620.7" x2="925.1" y2="672.4"/>
<line x1="791.7" y1="620.7" x2="1041" y2="672.4"/>
<line x1="791.7" y1="620.7" x2="987" y2="787.3"/>
<line x1="889.3" y1="623.2" x2="1076.6" y2="623.4"/>
<line x1="889.3" y1="623.2" x2="1107" y2="638.8"/>
<line x1="889.3" y1="623.2" x2="979.9" y2="653.2"/>
<line x1="889.3" y1="623.2" x2="925.1" y2="672.4"/>
<line x1="889.3" y1="623.2" x2="1078.3" y2="681.5"/>
<line x1="889.3" y1="623.2" x2="1162" y2="679.1"/>
<line x1="889.3" y1="623.2" x2="876.5" y2="711.5"/>
<line x1="889.3" y1="623.2" x2="937" y2="708.6"/>
<line x1="889.3" y1="623.2" x2="1037" y2="708.7"/>
<line x1="889.3" y1="623.2" x2="1094.2" y2="711.3"/>
<line x1="889.3" y1="623.2" x2="1145.9" y2="705.6"/>
<line x1="889.3" y1="623.2" x2="871.1" y2="749.1"/>
<line x1="1076.6" y1="623.4" x2="798.9" y2="650.8"/>
<line x1="1076.6" y1="623.4" x2="832.4" y2="647"/>
<line x1="1076.6" y1="623.4" x2="979.9" y2="653.2"/>
<line x1="1076.6" y1="623.4" x2="1173.8" y2="650.8"/>
<line x1="1076.6" y1="623.4" x2="850.4" y2="682"/>
<line x1="1076.6" y1="623.4" x2="925.1" y2="672.4"/>
<line x1="1076.6" y1="623.4" x2="1037" y2="708.7"/>
<line x1="1076.6" y1="623.4" x2="986.5" y2="718.7"/>
<line x1="1076.6" y1="623.4" x2="1062" y2="734"/>
<line x1="1076.6" y1="623.4" x2="955.6" y2="784.5"/>
<line x1="1181.2" y1="620.3" x2="847.5" y2="729.5"/>
<line x1="865.6" y1="637.7" x2="1107" y2="638.8"/>
<line x1="865.6" y1="637.7" x2="832.4" y2="647"/>
<line x1="865.6" y1="637.7" x2="1138.7" y2="646.8"/>
<line x1="865.6" y1="637.7" x2="850.4" y2="682"/>
<line x1="865.6" y1="637.7" x2="894.3" y2="680.5"/>
<line x1="865.6" y1="637.7" x2="925.1" y2="672.4"/>
<line x1="865.6" y1="637.7" x2="876.5" y2="711.5"/>
<line x1="865.6" y1="637.7" x2="937" y2="708.6"/>
<line x1="865.6" y1="637.7" x2="1037" y2="708.7"/>
<line x1="865.6" y1="637.7" x2="1094.2" y2="711.3"/>
<line x1="865.6" y1="637.7" x2="1125.8" y2="729.1"/>
<line x1="1107" y1="638.8" x2="979.9" y2="653.2"/>
<line x1="1107" y1="638.8" x2="1138.7" y2="646.8"/>
<line x1="1107" y1="638.8" x2="937" y2="708.6"/>
<line x1="1107" y1="638.8" x2="955.6" y2="784.5"/>
<line x1="1107" y1="638.8" x2="1047.5" y2="777.2"/>
<line x1="798.9" y1="650.8" x2="925.1" y2="672.4"/>
<line x1="798.9" y1="650.8" x2="1078.3" y2="681.5"/>
<line x1="798.9" y1="650.8" x2="876.5" y2="711.5"/>
<line x1="798.9" y1="650.8" x2="1037" y2="708.7"/>
<line x1="798.9" y1="650.8" x2="986.5" y2="718.7"/>
<line x1="832.4" y1="647" x2="979.9" y2="653.2"/>
<line x1="832.4" y1="647" x2="1138.7" y2="646.8"/>
<line x1="832.4" y1="647" x2="925.1" y2="672.4"/>
<line x1="832.4" y1="647" x2="1162" y2="679.1"/>
<line x1="832.4" y1="647" x2="827.2" y2="705.7"/>
<line x1="832.4" y1="647" x2="876.5" y2="711.5"/>
<line x1="832.4" y1="647" x2="909.3" y2="734"/>
<line x1="832.4" y1="647" x2="1062" y2="734"/>
<line x1="979.9" y1="653.2" x2="1138.7" y2="646.8"/>
<line x1="979.9" y1="653.2" x2="925.1" y2="672.4"/>
<line x1="979.9" y1="653.2" x2="1078.3" y2="681.5"/>
<line x1="979.9" y1="653.2" x2="1120.6" y2="682"/>
<line x1="979.9" y1="653.2" x2="876.5" y2="711.5"/>
<line x1="979.9" y1="653.2" x2="937" y2="708.6"/>
<line x1="979.9" y1="653.2" x2="1037" y2="708.7"/>
<line x1="979.9" y1="653.2" x2="1094.2" y2="711.3"/>
<line x1="979.9" y1="653.2" x2="986.5" y2="718.7"/>
<line x1="979.9" y1="653.2" x2="1125.8" y2="729.1"/>
<line x1="979.9" y1="653.2" x2="909.3" y2="734"/>
<line x1="979.9" y1="653.2" x2="1062" y2="734"/>
<line x1="979.9" y1="653.2" x2="946.2" y2="748.1"/>
<line x1="979.9" y1="653.2" x2="897.5" y2="765"/>
<line x1="1138.7" y1="646.8" x2="810.9" y2="679"/>
<line x1="1138.7" y1="646.8" x2="1078.3" y2="681.5"/>
<line x1="1138.7" y1="646.8" x2="1162" y2="679.1"/>
<line x1="1138.7" y1="646.8" x2="1037" y2="708.7"/>
<line x1="1138.7" y1="646.8" x2="1094.2" y2="711.3"/>
<line x1="1138.7" y1="646.8" x2="986.5" y2="718.7"/>
<line x1="1138.7" y1="646.8" x2="946.2" y2="748.1"/>
<line x1="1173.8" y1="650.8" x2="894.3" y2="680.5"/>
<line x1="1173.8" y1="650.8" x2="1041" y2="672.4"/>
<line x1="1173.8" y1="650.8" x2="986.5" y2="718.7"/>
<line x1="1173.8" y1="650.8" x2="909.3" y2="734"/>
<line x1="1173.8" y1="650.8" x2="985.3" y2="752.9"/>
<line x1="810.9" y1="679" x2="946.2" y2="748.1"/>
<line x1="810.9" y1="679" x2="1024.8" y2="748.1"/>
<line x1="850.4" y1="682" x2="937" y2="708.6"/>
<line x1="850.4" y1="682" x2="909.3" y2="734"/>
<line x1="850.4" y1="682" x2="1062" y2="734"/>
<line x1="894.3" y1="680.5" x2="1041" y2="672.4"/>
<line x1="894.3" y1="680.5" x2="1078.3" y2="681.5"/>
<line x1="894.3" y1="680.5" x2="983.5" y2="691.5"/>
<line x1="894.3" y1="680.5" x2="876.5" y2="711.5"/>
<line x1="894.3" y1="680.5" x2="1094.2" y2="711.3"/>
<line x1="894.3" y1="680.5" x2="986.5" y2="718.7"/>
<line x1="894.3" y1="680.5" x2="1062" y2="734"/>
<line x1="894.3" y1="680.5" x2="946.2" y2="748.1"/>
<line x1="894.3" y1="680.5" x2="1076.8" y2="765.6"/>
<line x1="894.3" y1="680.5" x2="1047.5" y2="777.2"/>
<line x1="925.1" y1="672.4" x2="983.5" y2="691.5"/>
<line x1="925.1" y1="672.4" x2="1037" y2="708.7"/>
<line x1="925.1" y1="672.4" x2="946.2" y2="748.1"/>
<line x1="925.1" y1="672.4" x2="1024.8" y2="748.1"/>
<line x1="925.1" y1="672.4" x2="1102.3" y2="749.1"/>
<line x1="925.1" y1="672.4" x2="987" y2="787.3"/>
<line x1="925.1" y1="672.4" x2="1017.6" y2="784.5"/>
<line x1="925.1" y1="672.4" x2="1047.5" y2="777.2"/>
<line x1="1041" y1="672.4" x2="983.5" y2="691.5"/>
<line x1="1041" y1="672.4" x2="937" y2="708.6"/>
<line x1="1041" y1="672.4" x2="1037" y2="708.7"/>
<line x1="1041" y1="672.4" x2="986.5" y2="718.7"/>
<line x1="1041" y1="672.4" x2="909.3" y2="734"/>
<line x1="1041" y1="672.4" x2="871.1" y2="749.1"/>
<line x1="1041" y1="672.4" x2="1076.8" y2="765.6"/>
<line x1="1078.3" y1="681.5" x2="983.5" y2="691.5"/>
<line x1="1078.3" y1="681.5" x2="909.3" y2="734"/>
<line x1="1078.3" y1="681.5" x2="1024.8" y2="748.1"/>
<line x1="1078.3" y1="681.5" x2="925.8" y2="777.2"/>
<line x1="1120.6" y1="682" x2="937" y2="708.6"/>
<line x1="1120.6" y1="682" x2="909.3" y2="734"/>
<line x1="1162" y1="679.1" x2="871.1" y2="749.1"/>
<line x1="1162" y1="679.1" x2="946.2" y2="748.1"/>
<line x1="1162" y1="679.1" x2="1024.8" y2="748.1"/>
<line x1="983.5" y1="691.5" x2="1037" y2="708.7"/>
<line x1="983.5" y1="691.5" x2="1062" y2="734"/>
<line x1="983.5" y1="691.5" x2="946.2" y2="748.1"/>
<line x1="983.5" y1="691.5" x2="1102.3" y2="749.1"/>
<line x1="983.5" y1="691.5" x2="897.5" y2="765"/>
<line x1="827.2" y1="705.7" x2="876.5" y2="711.5"/>
<line x1="827.2" y1="705.7" x2="1076.8" y2="765.6"/>
<line x1="876.5" y1="711.5" x2="1037" y2="708.7"/>
<line x1="876.5" y1="711.5" x2="1094.2" y2="711.3"/>
<line x1="876.5" y1="711.5" x2="1125.8" y2="729.1"/>
<line x1="876.5" y1="711.5" x2="909.3" y2="734"/>
<line x1="876.5" y1="711.5" x2="871.1" y2="749.1"/>
<line x1="876.5" y1="711.5" x2="1102.3" y2="749.1"/>
<line x1="937" y1="708.6" x2="1094.2" y2="711.3"/>
<line x1="937" y1="708.6" x2="909.3" y2="734"/>
<line x1="937" y1="708.6" x2="871.1" y2="749.1"/>
<line x1="937" y1="708.6" x2="985.3" y2="752.9"/>
<line x1="937" y1="708.6" x2="955.6" y2="784.5"/>
<line x1="1037" y1="708.7" x2="1094.2" y2="711.3"/>
<line x1="1037" y1="708.7" x2="909.3" y2="734"/>
<line x1="1037" y1="708.7" x2="1062" y2="734"/>
<line x1="1037" y1="708.7" x2="925.8" y2="777.2"/>
<line x1="1094.2" y1="711.3" x2="1145.9" y2="705.6"/>
<line x1="1094.2" y1="711.3" x2="986.5" y2="718.7"/>
<line x1="1094.2" y1="711.3" x2="909.3" y2="734"/>
<line x1="1094.2" y1="711.3" x2="1062" y2="734"/>
<line x1="1094.2" y1="711.3" x2="985.3" y2="752.9"/>
<line x1="1094.2" y1="711.3" x2="1024.8" y2="748.1"/>
<line x1="1094.2" y1="711.3" x2="1017.6" y2="784.5"/>
<line x1="1145.9" y1="705.6" x2="946.2" y2="748.1"/>
<line x1="986.5" y1="718.7" x2="1125.8" y2="729.1"/>
<line x1="986.5" y1="718.7" x2="909.3" y2="734"/>
<line x1="986.5" y1="718.7" x2="1062" y2="734"/>
<line x1="986.5" y1="718.7" x2="871.1" y2="749.1"/>
<line x1="986.5" y1="718.7" x2="985.3" y2="752.9"/>
<line x1="986.5" y1="718.7" x2="1076.8" y2="765.6"/>
<line x1="847.5" y1="729.5" x2="897.5" y2="765"/>
<line x1="1125.8" y1="729.1" x2="909.3" y2="734"/>
<line x1="1125.8" y1="729.1" x2="1024.8" y2="748.1"/>
<line x1="909.3" y1="734" x2="1047.5" y2="777.2"/>
<line x1="985.3" y1="752.9" x2="897.5" y2="765"/>
<line x1="1024.8" y1="748.1" x2="1102.3" y2="749.1"/>
<line x1="1024.8" y1="748.1" x2="955.6" y2="784.5"/>
<line x1="1024.8" y1="748.1" x2="987" y2="787.3"/>
</g>
<ellipse cx="926.2" cy="402.6" rx="15.75" ry="8.15" fill="#ffd814"/>
<ellipse cx="955.6" cy="395.4" rx="15.75" ry="8.15" fill="#ffd814"/>
<ellipse cx="987.1" cy="393.1" rx="15.75" ry="8.15" fill="#ffbe14"/>
<ellipse cx="1019.3" cy="395.4" rx="15.75" ry="8.15" fill="#ffd814"/>
<ellipse cx="1047.8" cy="402.6" rx="15.75" ry="8.15" fill="#ffa014"/>
<ellipse cx="897.2" cy="414.6" rx="15.75" ry="8.15" fill="#ffd814"/>
<ellipse cx="1075.8" cy="414.6" rx="15.75" ry="8.15" fill="#ffb814"/>
<ellipse cx="870.8" cy="430.9" rx="15.75" ry="8.15" fill="#ffa014"/>
<ellipse cx="946.2" cy="430.3" rx="15.75" ry="8.15" fill="#ff8c1a"/>
<ellipse cx="985.5" cy="424.9" rx="15.75" ry="8.15" fill="#ff8a1a"/>
<ellipse cx="1024.9" cy="429.3" rx="15.75" ry="8.15" fill="#ff7a1a"/>
<ellipse cx="1102.5" cy="430.9" rx="15.75" ry="8.15" fill="#ffd814"/>
<ellipse cx="909.2" cy="444" rx="15.75" ry="8.15" fill="#ff6a1a"/>
<ellipse cx="1061.8" cy="443.8" rx="15.75" ry="8.15" fill="#ff841a"/>
<ellipse cx="847.5" cy="450.8" rx="15.75" ry="8.15" fill="#ffc814"/>
<ellipse cx="985.5" cy="457.5" rx="15.75" ry="8.15" fill="#ff4a14"/>
<ellipse cx="1125.6" cy="450.8" rx="15.75" ry="8.15" fill="#ffac14"/>
<ellipse cx="876.4" cy="466.4" rx="15.75" ry="8.15" fill="#ff6e1a"/>
<ellipse cx="935.2" cy="467.5" rx="15.75" ry="8.15" fill="#ff5a1a"/>
<ellipse cx="1036.2" cy="467.5" rx="15.75" ry="8.15" fill="#ff5a1a"/>
<ellipse cx="1093.9" cy="466" rx="15.75" ry="8.15" fill="#ff5a14"/>
<ellipse cx="827.2" cy="474.3" rx="15.75" ry="8.15" fill="#ffc814"/>
<ellipse cx="1145.9" cy="474.3" rx="15.75" ry="8.15" fill="#ffd014"/>
<ellipse cx="850.4" cy="496" rx="15.75" ry="8.15" fill="#ff7814"/>
<ellipse cx="893.9" cy="494.9" rx="15.75" ry="8.15" fill="#ff5a14"/>
<ellipse cx="983.5" cy="495.1" rx="15.75" ry="8.15" fill="#ff1814"/>
<ellipse cx="1078.3" cy="495.6" rx="15.75" ry="8.15" fill="#ff4a14"/>
<ellipse cx="1120.6" cy="495.8" rx="15.75" ry="8.15" fill="#ff9414"/>
<ellipse cx="811.1" cy="500.5" rx="15.75" ry="8.15" fill="#ff9414"/>
<ellipse cx="1162" cy="501" rx="15.75" ry="8.15" fill="#ffa014"/>
<ellipse cx="925.1" cy="513.4" rx="15.75" ry="8.15" fill="#ff2a14"/>
<ellipse cx="1041.2" cy="513.5" rx="15.75" ry="8.15" fill="#ff3c14"/>
<ellipse cx="798.9" cy="529.2" rx="15.75" ry="8.15" fill="#ffb414"/>
<ellipse cx="832.4" cy="530.4" rx="15.75" ry="8.15" fill="#ff7014"/>
<ellipse cx="865.4" cy="536.7" rx="15.75" ry="8.15" fill="#ff3c14"/>
<ellipse cx="941.4" cy="534.7" rx="15.75" ry="8.15" fill="#ff1414"/>
<ellipse cx="1018.6" cy="534.6" rx="15.75" ry="8.15" fill="#ff1414"/>
<ellipse cx="1107" cy="538.3" rx="15.75" ry="8.15" fill="#ff4614"/>
<ellipse cx="1138.7" cy="530.4" rx="15.75" ry="8.15" fill="#ff7a14"/>
<ellipse cx="1173.8" cy="528.8" rx="15.75" ry="8.15" fill="#ffd814"/>
<ellipse cx="791.7" cy="559.2" rx="15.75" ry="8.15" fill="#ffd814"/>
<ellipse cx="822.6" cy="569.6" rx="15.75" ry="8.15" fill="#ff8a14"/>
<ellipse cx="889.3" cy="562.6" rx="15.75" ry="8.15" fill="#ff2c14"/>
<ellipse cx="948.4" cy="568.9" rx="15.75" ry="8.15" fill="#ff1010"/>
<ellipse cx="1005.1" cy="568.8" rx="15.75" ry="8.15" fill="#ff1010"/>
<ellipse cx="1076.8" cy="562.7" rx="15.75" ry="8.15" fill="#ff3014"/>
<ellipse cx="1148.2" cy="569" rx="15.75" ry="8.15" fill="#ff5a14"/>
<ellipse cx="1181.3" cy="559.6" rx="15.75" ry="8.15" fill="#ffac14"/>
<ellipse cx="789.4" cy="589.7" rx="15.75" ry="8.15" fill="#ffbc14"/>
<ellipse cx="855.4" cy="587.5" rx="15.75" ry="8.15" fill="#ff5014"/>
<ellipse cx="1116.8" cy="588.6" rx="15.75" ry="8.15" fill="#ff4614"/>
<ellipse cx="1182.8" cy="589.8" rx="15.75" ry="8.15" fill="#ffc814"/>
<ellipse cx="822.6" cy="608.5" rx="15.75" ry="8.15" fill="#ff6a14"/>
<ellipse cx="917.7" cy="608" rx="15.75" ry="8.15" fill="#ff1e14"/>
<ellipse cx="976.9" cy="618.1" rx="15.75" ry="8.15" fill="#ff1010"/>
<ellipse cx="1042.4" cy="608" rx="15.75" ry="8.15" fill="#ff1a14"/>
<ellipse cx="1148.2" cy="608.3" rx="15.75" ry="8.15" fill="#ff7414"/>
<ellipse cx="791.7" cy="620.7" rx="15.75" ry="8.15" fill="#ffd014"/>
<ellipse cx="889.3" cy="623.2" rx="15.75" ry="8.15" fill="#ff2414"/>
<ellipse cx="1076.6" cy="623.4" rx="15.75" ry="8.15" fill="#ff2014"/>
<ellipse cx="1181.2" cy="620.3" rx="15.75" ry="8.15" fill="#ffd414"/>
<ellipse cx="865.6" cy="637.7" rx="15.75" ry="8.15" fill="#ff4614"/>
<ellipse cx="1107" cy="638.8" rx="15.75" ry="8.15" fill="#ff4a14"/>
<ellipse cx="798.9" cy="650.8" rx="15.75" ry="8.15" fill="#ff9c14"/>
<ellipse cx="832.4" cy="647" rx="15.75" ry="8.15" fill="#ff5a14"/>
<ellipse cx="979.9" cy="653.2" rx="15.75" ry="8.15" fill="#ff1e14"/>
<ellipse cx="1138.7" cy="646.8" rx="15.75" ry="8.15" fill="#ff6014"/>
<ellipse cx="1173.8" cy="650.8" rx="15.75" ry="8.15" fill="#ff9c14"/>
<ellipse cx="810.9" cy="679" rx="15.75" ry="8.15" fill="#ffc814"/>
<ellipse cx="850.4" cy="682" rx="15.75" ry="8.15" fill="#ff8014"/>
<ellipse cx="894.3" cy="680.5" rx="15.75" ry="8.15" fill="#ff5014"/>
<ellipse cx="925.1" cy="672.4" rx="15.75" ry="8.15" fill="#ff3014"/>
<ellipse cx="1041" cy="672.4" rx="15.75" ry="8.15" fill="#ff2414"/>
<ellipse cx="1078.3" cy="681.5" rx="15.75" ry="8.15" fill="#ff5614"/>
<ellipse cx="1120.6" cy="682" rx="15.75" ry="8.15" fill="#ff9414"/>
<ellipse cx="1162" cy="679.1" rx="15.75" ry="8.15" fill="#ff9414"/>
<ellipse cx="983.5" cy="691.5" rx="15.75" ry="8.15" fill="#ff3014"/>
<ellipse cx="827.2" cy="705.7" rx="15.75" ry="8.15" fill="#ffb414"/>
<ellipse cx="876.5" cy="711.5" rx="15.75" ry="8.15" fill="#ff6414"/>
<ellipse cx="937" cy="708.6" rx="15.75" ry="8.15" fill="#ff3014"/>
<ellipse cx="1037" cy="708.7" rx="15.75" ry="8.15" fill="#ff3c14"/>
<ellipse cx="1094.2" cy="711.3" rx="15.75" ry="8.15" fill="#ff6414"/>
<ellipse cx="1145.9" cy="705.6" rx="15.75" ry="8.15" fill="#ffd014"/>
<ellipse cx="986.5" cy="718.7" rx="15.75" ry="8.15" fill="#ff3a14"/>
<ellipse cx="847.5" cy="729.5" rx="15.75" ry="8.15" fill="#ffc814"/>
<ellipse cx="1125.8" cy="729.1" rx="15.75" ry="8.15" fill="#ffa414"/>
<ellipse cx="909.3" cy="734" rx="15.75" ry="8.15" fill="#ff6414"/>
<ellipse cx="1062" cy="734" rx="15.75" ry="8.15" fill="#ff8c14"/>
<ellipse cx="871.1" cy="749.1" rx="15.75" ry="8.15" fill="#ffa014"/>
<ellipse cx="946.2" cy="748.1" rx="15.75" ry="8.15" fill="#ff8414"/>
<ellipse cx="985.3" cy="752.9" rx="15.75" ry="8.15" fill="#ff8a14"/>
<ellipse cx="1024.8" cy="748.1" rx="15.75" ry="8.15" fill="#ff7414"/>
<ellipse cx="1102.3" cy="749.1" rx="15.75" ry="8.15" fill="#ffac14"/>
<ellipse cx="897.5" cy="765" rx="15.75" ry="8.15" fill="#ffa414"/>
<ellipse cx="1076.8" cy="765.6" rx="15.75" ry="8.15" fill="#ffbe14"/>
<ellipse cx="925.8" cy="777.2" rx="15.75" ry="8.15" fill="#ffb414"/>
<ellipse cx="955.6" cy="784.5" rx="15.75" ry="8.15" fill="#ff9c14"/>
<ellipse cx="987" cy="787.3" rx="15.75" ry="8.15" fill="#ffd414"/>
<ellipse cx="1017.6" cy="784.5" rx="15.75" ry="8.15" fill="#ffd414"/>
<ellipse cx="1047.5" cy="777.2" rx="15.75" ry="8.15" fill="#ffa814"/>
<text x="926.2" y="405.55" font-size="8.3" text-anchor="middle" fill="#151515" stroke="#151515" stroke-width="0.3">HMGA2</text>
<text x="955.6" y="398.35" font-size="8.3" text-anchor="middle" fill="#151515" stroke="#151515" stroke-width="0.3">CLOCK</text>
<text x="987.1" y="396.05" font-size="8.3" text-anchor="middle" fill="#151515" stroke="#151515" stroke-width="0.3">TCF7L1</text>
<text x="1019.3" y="398.35" font-size="8.3" text-anchor="middle" fill="#151515" stroke="#151515" stroke-width="0.3">SRSF10</text>
<text x="1047.8" y="405.55" font-size="8.3" text-anchor="middle" fill="#151515" stroke="#151515" stroke-width="0.3">HBEGF</text>
<text x="897.2" y="417.55" font-size="8.3" text-anchor="middle" fill="#151515" stroke="#151515" stroke-width="0.3">ITGA9</text>
<text x="1075.8" y="417.55" font-size="8.3" text-anchor="middle" fill="#151515" stroke="#151515" stroke-width="0.3">ISL1</text>
<text x="870.8" y="433.85" font-size="8.3" text-anchor="middle" fill="#151515" stroke="#151515" stroke-width="0.3">PTCH1</text>
<text x="946.2" y="433.25" font-size="8.3" text-anchor="middle" fill="#151515" stroke="#151515" stroke-width="0.3">HNRNPU</text>
<text x="985.5" y="427.85" font-size="8.3" text-anchor="middle" fill="#151515" stroke="#151515" stroke-width="0.3">EPC1</text>
<text x="1024.9" y="432.25" font-size="8.3" text-anchor="middle" fill="#151515" stroke="#151515" stroke-width="0.3">FGF7</text>
<text x="1102.5" y="433.85" font-size="8.3" text-anchor="middle" fill="#151515" stroke="#151515" stroke-width="0.3">NR4A2</text>
<text x="909.2" y="446.95" font-size="8.3" text-anchor="middle" fill="#151515" stroke="#151515" stroke-width="0.3">KAT7</text>
<text x="1061.8" y="446.75" font-size="8.3" text-anchor="middle" fill="#151515" stroke="#151515" stroke-width="0.3">KITLG</text>
<text x="847.5" y="453.75" font-size="8.3" text-anchor="middle" fill="#151515" stroke="#151515" stroke-width="0.3">ETV1</text>
<text x="985.5" y="460.45" font-size="8.3" text-anchor="middle" fill="#151515" stroke="#151515" stroke-width="0.3">CCN2</text>
<text x="1125.6" y="453.75" font-size="8.3" text-anchor="middle" fill="#151515" stroke="#151515" stroke-width="0.3">SGK3</text>
<text x="876.4" y="469.35" font-size="8.3" text-anchor="middle" fill="#151515" stroke="#151515" stroke-width="0.3">SHH</text>
<text x="935.2" y="470.45" font-size="8.3" text-anchor="middle" fill="#151515" stroke="#151515" stroke-width="0.3">RASA1</text>
<text x="1036.2" y="470.45" font-size="8.3" text-anchor="middle" fill="#151515" stroke="#151515" stroke-width="0.3">THBS1</text>
<text x="1093.9" y="468.95" font-size="8.3" text-anchor="middle" fill="#151515" stroke="#151515" stroke-width="0.3">SREBF1</text>
<text x="827.2" y="477.25" font-size="8.3" text-anchor="middle" fill="#151515" stroke="#151515" stroke-width="0.3">PPP2R5E</text>
<text x="1145.9" y="477.25" font-size="8.3" text-anchor="middle" fill="#151515" stroke="#151515" stroke-width="0.3">HNRNPR</text>
<text x="850.4" y="498.95" font-size="8.3" text-anchor="middle" fill="#151515" stroke="#151515" stroke-width="0.3">ARID4B</text>
<text x="893.9" y="497.85" font-size="8.3" text-anchor="middle" fill="#151515" stroke="#151515" stroke-width="0.3">KAT6A</text>
<text x="983.5" y="498.05" font-size="8.3" text-anchor="middle" fill="#151515" stroke="#151515" stroke-width="0.3">MAPK3</text>
<text x="1078.3" y="498.55" font-size="8.3" text-anchor="middle" fill="#151515" stroke="#151515" stroke-width="0.3">SOS1</text>
<text x="1120.6" y="498.75" font-size="8.3" text-anchor="middle" fill="#151515" stroke="#151515" stroke-width="0.3">PPP2R5C</text>
<text x="811.1" y="503.45" font-size="8.3" text-anchor="middle" fill="#151515" stroke="#151515" stroke-width="0.3">FXR1</text>
<text x="1162" y="503.95" font-size="8.3" text-anchor="middle" fill="#151515" stroke="#151515" stroke-width="0.3">MEF2A</text>
<text x="925.1" y="516.35" font-size="8.3" text-anchor="middle" fill="#151515" stroke="#151515" stroke-width="0.3">MAPK1</text>
<text x="1041.2" y="516.45" font-size="8.3" text-anchor="middle" fill="#151515" stroke="#151515" stroke-width="0.3">RB1</text>
<text x="798.9" y="532.15" font-size="8.3" text-anchor="middle" fill="#151515" stroke="#151515" stroke-width="0.3">ZEB2</text>
<text x="832.4" y="533.35" font-size="8.3" text-anchor="middle" fill="#151515" stroke="#151515" stroke-width="0.3">TCF7L2</text>
<text x="865.4" y="539.65" font-size="8.3" text-anchor="middle" fill="#151515" stroke="#151515" stroke-width="0.3">FBXW7</text>
<text x="941.4" y="537.65" font-size="8.3" text-anchor="middle" fill="#151515" stroke="#151515" stroke-width="0.3">FOXO3</text>
<text x="1018.6" y="537.55" font-size="8.3" text-anchor="middle" fill="#151515" stroke="#151515" stroke-width="0.3">FOXO1</text>
<text x="1107" y="541.25" font-size="8.3" text-anchor="middle" fill="#151515" stroke="#151515" stroke-width="0.3">CHD1</text>
<text x="1138.7" y="533.35" font-size="8.3" text-anchor="middle" fill="#151515" stroke="#151515" stroke-width="0.3">GAB1</text>
<text x="1173.8" y="531.75" font-size="8.3" text-anchor="middle" fill="#151515" stroke="#151515" stroke-width="0.3">TLN2</text>
<text x="791.7" y="562.15" font-size="8.3" text-anchor="middle" fill="#151515" stroke="#151515" stroke-width="0.3">FLNB</text>
<text x="822.6" y="573.63" font-size="11.2" text-anchor="middle" fill="#151515" stroke="#151515" stroke-width="0.35">RBP2</text>
<text x="889.3" y="565.55" font-size="8.3" text-anchor="middle" fill="#151515" stroke="#151515" stroke-width="0.3">H3-5</text>
<text x="948.4" y="571.85" font-size="8.3" text-anchor="middle" fill="#151515" stroke="#151515" stroke-width="0.3">PTEN</text>
<text x="1005.1" y="571.75" font-size="8.3" text-anchor="middle" fill="#151515" stroke="#151515" stroke-width="0.3">BRCA1</text>
<text x="1076.8" y="565.65" font-size="8.3" text-anchor="middle" fill="#151515" stroke="#151515" stroke-width="0.3">AKT3</text>
<text x="1148.2" y="571.95" font-size="8.3" text-anchor="middle" fill="#151515" stroke="#151515" stroke-width="0.3">IRF1</text>
<text x="1181.3" y="562.55" font-size="8.3" text-anchor="middle" fill="#151515" stroke="#151515" stroke-width="0.3">RTF1</text>
<text x="789.4" y="592.65" font-size="8.3" text-anchor="middle" fill="#151515" stroke="#151515" stroke-width="0.3">SMAD5</text>
<text x="855.4" y="590.45" font-size="8.3" text-anchor="middle" fill="#151515" stroke="#151515" stroke-width="0.3">SRSF1</text>
<text x="1116.8" y="591.55" font-size="8.3" text-anchor="middle" fill="#151515" stroke="#151515" stroke-width="0.3">MECP2</text>
<text x="1182.8" y="592.75" font-size="8.3" text-anchor="middle" fill="#151515" stroke="#151515" stroke-width="0.3">FOXP2</text>
<text x="822.6" y="611.45" font-size="8.3" text-anchor="middle" fill="#151515" stroke="#151515" stroke-width="0.3">CRK</text>
<text x="917.7" y="610.95" font-size="8.3" text-anchor="middle" fill="#151515" stroke="#151515" stroke-width="0.3">EGR1</text>
<text x="976.9" y="621.05" font-size="8.3" text-anchor="middle" fill="#151515" stroke="#151515" stroke-width="0.3">CDKN1A</text>
<text x="1042.4" y="610.95" font-size="8.3" text-anchor="middle" fill="#151515" stroke="#151515" stroke-width="0.3">EP300</text>
<text x="1148.2" y="611.25" font-size="8.3" text-anchor="middle" fill="#151515" stroke="#151515" stroke-width="0.3">MITF</text>
<text x="791.7" y="623.65" font-size="8.3" text-anchor="middle" fill="#151515" stroke="#151515" stroke-width="0.3">SPRY1</text>
<text x="889.3" y="626.15" font-size="8.3" text-anchor="middle" fill="#151515" stroke="#151515" stroke-width="0.3">PIK3CA</text>
<text x="1076.6" y="626.35" font-size="8.3" text-anchor="middle" fill="#151515" stroke="#151515" stroke-width="0.3">SMAD2</text>
<text x="1181.2" y="623.25" font-size="8.3" text-anchor="middle" fill="#151515" stroke="#151515" stroke-width="0.3">FOXP1</text>
<text x="865.6" y="640.65" font-size="8.3" text-anchor="middle" fill="#151515" stroke="#151515" stroke-width="0.3">H2AZ1</text>
<text x="1107" y="641.75" font-size="8.3" text-anchor="middle" fill="#151515" stroke="#151515" stroke-width="0.3">AGO1</text>
<text x="798.9" y="653.75" font-size="8.3" text-anchor="middle" fill="#151515" stroke="#151515" stroke-width="0.3">TADA2B</text>
<text x="832.4" y="649.95" font-size="8.3" text-anchor="middle" fill="#151515" stroke="#151515" stroke-width="0.3">ROCK1</text>
<text x="979.9" y="656.15" font-size="8.3" text-anchor="middle" fill="#151515" stroke="#151515" stroke-width="0.3">H3-3B</text>
<text x="1138.7" y="649.75" font-size="8.3" text-anchor="middle" fill="#151515" stroke="#151515" stroke-width="0.3">FOXA1</text>
<text x="1173.8" y="653.75" font-size="8.3" text-anchor="middle" fill="#151515" stroke="#151515" stroke-width="0.3">PSMA2</text>
<text x="810.9" y="681.95" font-size="8.3" text-anchor="middle" fill="#151515" stroke="#151515" stroke-width="0.3">USP9X</text>
<text x="850.4" y="684.95" font-size="8.3" text-anchor="middle" fill="#151515" stroke="#151515" stroke-width="0.3">ARID2</text>
<text x="894.3" y="683.45" font-size="8.3" text-anchor="middle" fill="#151515" stroke="#151515" stroke-width="0.3">KDM5B</text>
<text x="925.1" y="675.35" font-size="8.3" text-anchor="middle" fill="#151515" stroke="#151515" stroke-width="0.3">GSK3B</text>
<text x="1041" y="675.35" font-size="8.3" text-anchor="middle" fill="#151515" stroke="#151515" stroke-width="0.3">SIRT1</text>
<text x="1078.3" y="684.45" font-size="8.3" text-anchor="middle" fill="#151515" stroke="#151515" stroke-width="0.3">LYN</text>
<text x="1120.6" y="684.95" font-size="8.3" text-anchor="middle" fill="#151515" stroke="#151515" stroke-width="0.3">PPP3CA</text>
<text x="1162" y="682.05" font-size="8.3" text-anchor="middle" fill="#151515" stroke="#151515" stroke-width="0.3">ATXN7</text>
<text x="983.5" y="694.45" font-size="8.3" text-anchor="middle" fill="#151515" stroke="#151515" stroke-width="0.3">NCOR1</text>
<text x="827.2" y="708.65" font-size="8.3" text-anchor="middle" fill="#151515" stroke="#151515" stroke-width="0.3">CPSF6</text>
<text x="876.5" y="714.45" font-size="8.3" text-anchor="middle" fill="#151515" stroke="#151515" stroke-width="0.3">CHD8</text>
<text x="937" y="711.55" font-size="8.3" text-anchor="middle" fill="#151515" stroke="#151515" stroke-width="0.3">DNMT3A</text>
<text x="1037" y="711.65" font-size="8.3" text-anchor="middle" fill="#151515" stroke="#151515" stroke-width="0.3">AGO2</text>
<text x="1094.2" y="714.25" font-size="8.3" text-anchor="middle" fill="#151515" stroke="#151515" stroke-width="0.3">PDGFRA</text>
<text x="1145.9" y="708.55" font-size="8.3" text-anchor="middle" fill="#151515" stroke="#151515" stroke-width="0.3">YWHAG</text>
<text x="986.5" y="721.65" font-size="8.3" text-anchor="middle" fill="#151515" stroke="#151515" stroke-width="0.3">ARID1A</text>
<text x="847.5" y="732.45" font-size="8.3" text-anchor="middle" fill="#151515" stroke="#151515" stroke-width="0.3">BMPR1A</text>
<text x="1125.8" y="732.05" font-size="8.3" text-anchor="middle" fill="#151515" stroke="#151515" stroke-width="0.3">AEBP2</text>
<text x="909.3" y="736.95" font-size="8.3" text-anchor="middle" fill="#151515" stroke="#151515" stroke-width="0.3">PXN</text>
<text x="1062" y="736.95" font-size="8.3" text-anchor="middle" fill="#151515" stroke="#151515" stroke-width="0.3">PPP2CB</text>
<text x="871.1" y="752.05" font-size="8.3" text-anchor="middle" fill="#151515" stroke="#151515" stroke-width="0.3">PSMD12</text>
<text x="946.2" y="751.05" font-size="8.3" text-anchor="middle" fill="#151515" stroke="#151515" stroke-width="0.3">MEIS1</text>
<text x="985.3" y="755.85" font-size="8.3" text-anchor="middle" fill="#151515" stroke="#151515" stroke-width="0.3">CFL2</text>
<text x="1024.8" y="751.05" font-size="8.3" text-anchor="middle" fill="#151515" stroke="#151515" stroke-width="0.3">NFYA</text>
<text x="1102.3" y="752.05" font-size="8.3" text-anchor="middle" fill="#151515" stroke="#151515" stroke-width="0.3">TFDP1</text>
<text x="897.5" y="767.95" font-size="8.3" text-anchor="middle" fill="#151515" stroke="#151515" stroke-width="0.3">POLE3</text>
<text x="1076.8" y="769.63" font-size="11.2" text-anchor="middle" fill="#151515" stroke="#151515" stroke-width="0.35">SOX4</text>
<text x="925.8" y="780.15" font-size="8.3" text-anchor="middle" fill="#151515" stroke="#151515" stroke-width="0.3">E2F5</text>
<text x="955.6" y="787.45" font-size="8.3" text-anchor="middle" fill="#151515" stroke="#151515" stroke-width="0.3">DGCR8</text>
<text x="987" y="790.25" font-size="8.3" text-anchor="middle" fill="#151515" stroke="#151515" stroke-width="0.3">CITED2</text>
<text x="1017.6" y="787.45" font-size="8.3" text-anchor="middle" fill="#151515" stroke="#151515" stroke-width="0.3">ARF3</text>
<text x="1047.5" y="780.15" font-size="8.3" text-anchor="middle" fill="#151515" stroke="#151515" stroke-width="0.3">MAPT</text>
<rect x="804.5" y="558.5" width="36.9" height="21.7" fill="none" stroke="#222" stroke-width="1.3"/>
<rect x="1059.8" y="754.6" width="36.6" height="21.7" fill="none" stroke="#222" stroke-width="1.3"/>
</svg>
</body></html>
